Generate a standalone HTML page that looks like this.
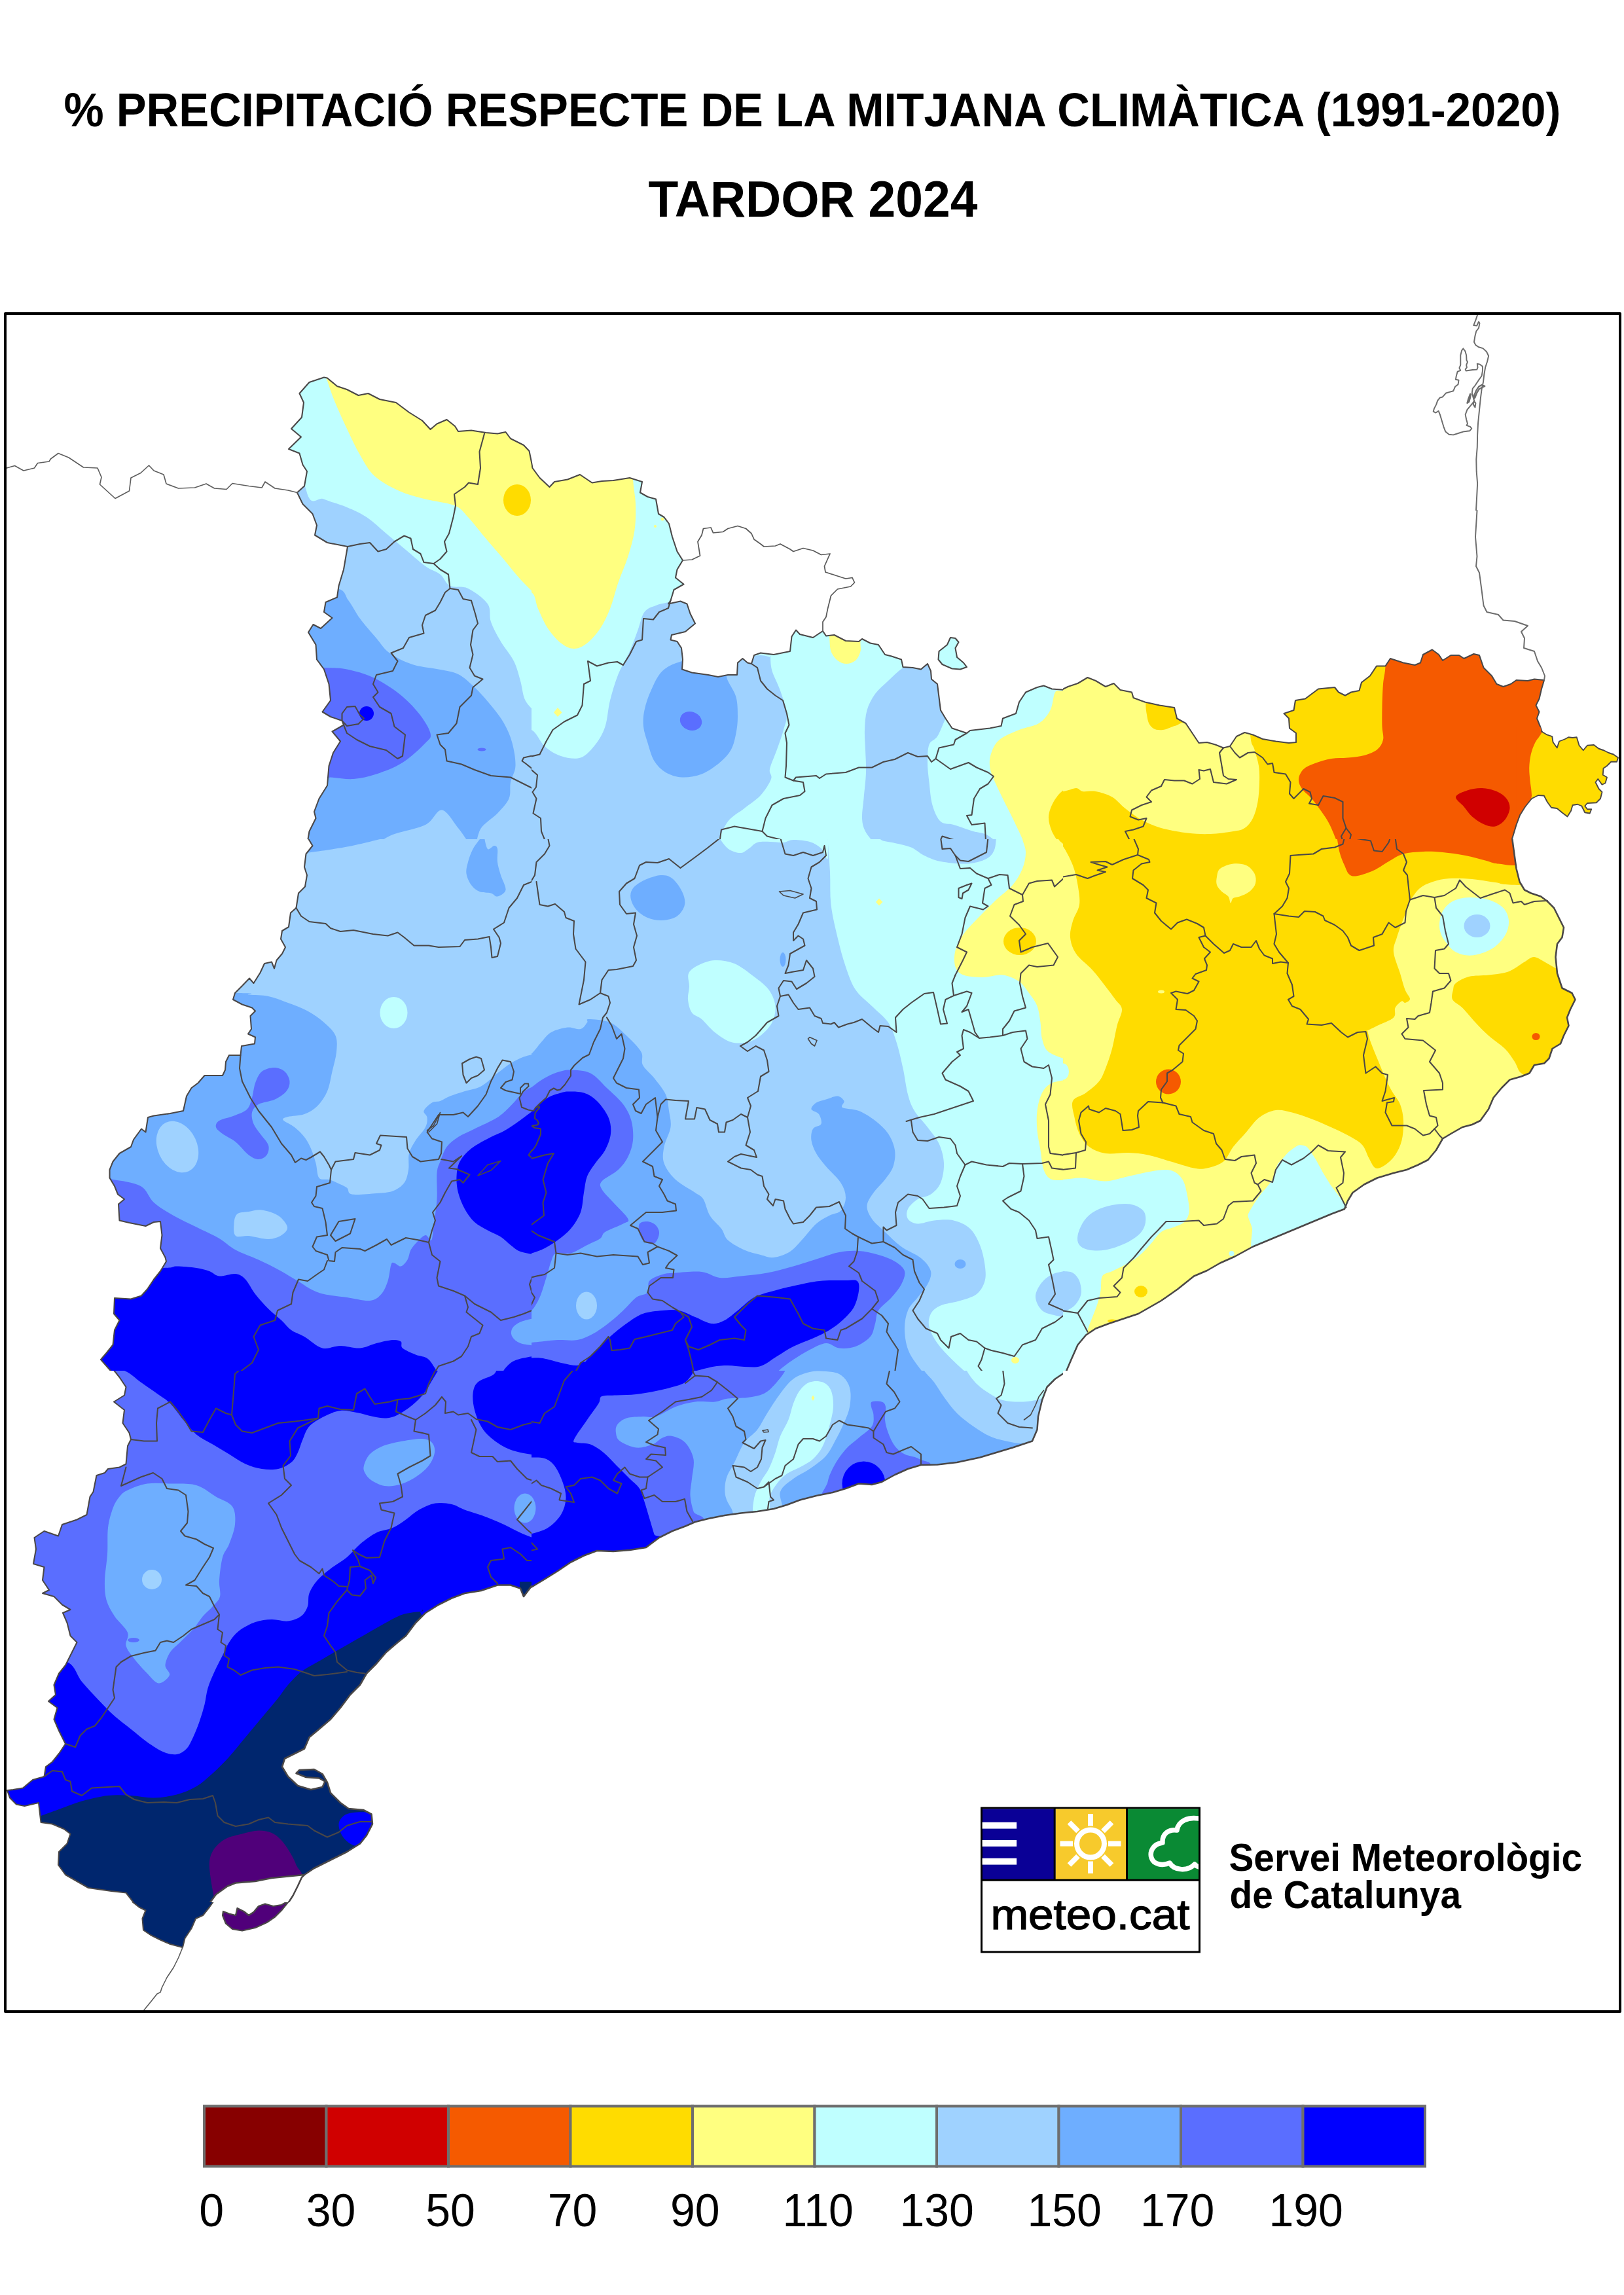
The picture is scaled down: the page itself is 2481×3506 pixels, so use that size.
<!DOCTYPE html>
<html><head><meta charset="utf-8"><title>Precipitació tardor 2024</title>
<style>html,body{margin:0;padding:0;background:#fff}body{width:2481px;height:3506px;overflow:hidden;font-family:"Liberation Sans",sans-serif}svg{display:block}</style>
</head><body>
<svg width="2481" height="3506" viewBox="0 0 2481 3506" font-family="'Liberation Sans',sans-serif">
<rect width="2481" height="3506" fill="#ffffff"/>
<g transform="translate(0,470) scale(0.50000)">
<clipPath id="cl0r"><rect x="0" y="0" width="1624" height="1624"/></clipPath>
<clipPath id="cl0" clip-path="url(#cl0r)"><path d="M1628,492 L1617,438 L1600,420 L1560,400 L1545,380 L1520,385 L1485,382 L1440,375 L1400,378 L1390,362 L1365,342 L1335,355 L1315,372 L1290,345 L1250,320 L1210,290 L1160,280 L1125,262 L1095,268 L1060,250 L1030,240 L1000,215 L990,213 L945,228 L915,262 L928,290 L922,335 L890,370 L920,395 L882,432 L915,445 L925,480 L938,500 L930,545 L908,565 L925,600 L955,630 L968,665 L962,695 L1000,718 L1062,730 L1050,800 L1035,850 L1030,885 L995,900 L990,930 L1015,948 L980,980 L957,968 L942,992 L965,1030 L968,1075 L990,1105 L1005,1150 L1010,1200 L985,1235 L1010,1250 L1045,1262 L1050,1275 L1015,1295 L1040,1325 L1018,1360 L1005,1400 L1000,1460 L975,1500 L960,1540 L965,1560 L945,1600 L940,1630 L1630,1630Z"/></clipPath>
<g clip-path="url(#cl0)">
<rect x="0" y="0" width="1624" height="1624" fill="#9fd2ff"/>
<path d="M900,200 C772.5,259.2 920,490.8 935,555 C950,619.2 969.2,575.8 990,585 C1010.8,594.2 1038.3,600.8 1060,610 C1081.7,619.2 1100,626.7 1120,640 C1140,653.3 1160,673.3 1180,690 C1200,706.7 1220,723.3 1240,740 C1260,756.7 1282.5,777.5 1300,790 C1317.5,802.5 1332.5,805 1345,815 C1357.5,825 1360.8,842.8 1375,850 C1389.2,857.2 1410.8,848.8 1430,858 C1449.2,867.2 1478.3,888 1490,905 C1501.7,922 1493.3,940.8 1500,960 C1506.7,979.2 1518.3,1000 1530,1020 C1541.7,1040 1560,1060 1570,1080 C1580,1100 1584.2,1120 1590,1140 C1595.8,1160 1596.7,1183.3 1605,1200 C1613.3,1216.7 1640,1240 1640,1240 L1700,1240 L1700,200 C1700,200 1027.5,140.8 900,200Z" fill="#bfffff"/>
<path d="M985,190 C868,194.7 992.2,203 998,218 C1003.8,233 1009.7,254.7 1020,280 C1030.3,305.3 1046.7,341.7 1060,370 C1073.3,398.3 1085.8,425.8 1100,450 C1114.2,474.2 1125,496.7 1145,515 C1165,533.3 1194.2,548.3 1220,560 C1245.8,571.7 1271.7,577.5 1300,585 C1328.3,592.5 1368.3,595.8 1390,605 C1411.7,614.2 1415,624.2 1430,640 C1445,655.8 1461.7,678.3 1480,700 C1498.3,721.7 1521.7,748.3 1540,770 C1558.3,791.7 1573.3,811.7 1590,830 C1606.7,848.3 1640,880 1640,880 L1700,880 L1700,190 C1700,190 1102,185.3 985,190Z" fill="#ffff80"/>
<ellipse cx="1580" cy="588" rx="42" ry="48" fill="#ffdc00"/>
<path d="M900,858 C921.7,727.7 1002.5,851.8 1030,858 C1057.5,864.2 1053.3,879.7 1065,895 C1076.7,910.3 1085.8,930.8 1100,950 C1114.2,969.2 1135,992.5 1150,1010 C1165,1027.5 1171.7,1041.7 1190,1055 C1208.3,1068.3 1235,1081.7 1260,1090 C1285,1098.3 1316.7,1100 1340,1105 C1363.3,1110 1381.7,1110.8 1400,1120 C1418.3,1129.2 1433.3,1144.2 1450,1160 C1466.7,1175.8 1485,1196.7 1500,1215 C1515,1233.3 1529.2,1250.8 1540,1270 C1550.8,1289.2 1559.2,1308.3 1565,1330 C1570.8,1351.7 1575.8,1380 1575,1400 C1574.2,1420 1563.3,1433.3 1560,1450 C1556.7,1466.7 1561.7,1484.2 1555,1500 C1548.3,1515.8 1534.2,1530 1520,1545 C1505.8,1560 1480.8,1574.2 1470,1590 C1459.2,1605.8 1455,1640 1455,1640 L1435,1640 C1435,1640 1414.2,1607.5 1400,1590 C1385.8,1572.5 1366.7,1536.7 1350,1535 C1333.3,1533.3 1325,1567.5 1300,1580 C1275,1592.5 1225,1600 1200,1610 C1175,1620 1150,1640 1150,1640 L900,1640 C900,1640 878.3,988.3 900,858Z" fill="#6eaeff"/>
<path d="M950,1100 C957,1044.2 973.7,1099.2 992,1100 C1010.3,1100.8 1035.3,1100 1060,1105 C1084.7,1110 1113.3,1117.5 1140,1130 C1166.7,1142.5 1196.7,1161.7 1220,1180 C1243.3,1198.3 1264.2,1220 1280,1240 C1295.8,1260 1311.7,1285 1315,1300 C1318.3,1315 1314.2,1315 1300,1330 C1285.8,1345 1255,1374.2 1230,1390 C1205,1405.8 1175,1416.7 1150,1425 C1125,1433.3 1103.3,1438.3 1080,1440 C1056.7,1441.7 1031.7,1435.8 1010,1435 C988.3,1434.2 960,1490.8 950,1435 C940,1379.2 943,1155.8 950,1100Z" fill="#5a6eff"/>
<ellipse cx="1120" cy="1240" rx="22" ry="22" fill="#0000ff"/>
<ellipse cx="1472" cy="1350" rx="13" ry="5" fill="#5a6eff"/>
</g>
<g clip-path="url(#cl0r)" fill="none" stroke="#4a4747" stroke-linejoin="round" stroke-linecap="round">
<path d="M1628,492 L1617,438 L1600,420 L1560,400 L1545,380 L1520,385 L1485,382 L1440,375 L1400,378 L1390,362 L1365,342 L1335,355 L1315,372 L1290,345 L1250,320 L1210,290 L1160,280 L1125,262 L1095,268 L1060,250 L1030,240 L1000,215 L990,213 L945,228 L915,262 L928,290 L922,335 L890,370 L920,395 L882,432 L915,445 L925,480 L938,500 L930,545 L908,565 L925,600 L955,630 L968,665 L962,695 L1000,718 L1062,730 L1050,800 L1035,850 L1030,885 L995,900 L990,930 L1015,948 L980,980 L957,968 L942,992 L965,1030 L968,1075 L990,1105 L1005,1150 L1010,1200 L985,1235 L1010,1250 L1045,1262 L1050,1275 L1015,1295 L1040,1325 L1018,1360 L1005,1400 L1000,1460 L975,1500 L960,1540 L965,1560 L945,1600 L940,1630" stroke-width="4.1"/>
<path d="M908,565 L880,558 L840,552 L810,532 L800,550 L760,545 L710,537 L692,555 L655,552 L630,538 L595,550 L545,552 L508,538 L500,510 L470,498 L455,482 L430,505 L400,520 L395,560 L352,583 L305,540 L310,518 L298,490 L255,488 L210,458 L178,445 L155,462 L150,470 L115,475 L105,490 L72,498 L45,483 L20,490" stroke-width="3.3" stroke="#5e5e5e"/>
<path d="M1062,730 L1100,722 L1130,718 L1155,745 L1180,738 L1205,715 L1235,697 L1255,705 L1262,738 L1285,752 L1295,778 L1325,782 L1345,768 L1365,745 L1358,715 L1372,690 L1385,640 L1392,605 L1388,570 L1420,548 L1432,535 L1460,540 L1468,490 L1465,440 L1480,385" stroke-width="4.1"/>
<path d="M1325,782 L1345,800 L1370,815 L1375,858 L1360,870 L1345,900 L1330,925 L1300,940 L1290,970 L1295,995 L1250,1008 L1232,1040 L1195,1055 L1215,1080 L1200,1110 L1150,1122 L1140,1150 L1155,1175 L1140,1190 L1160,1220 L1195,1240 L1205,1280 L1238,1305 L1230,1370 L1215,1378 L1180,1352 L1130,1340 L1090,1320 L1060,1300 L1050,1275" stroke-width="4.1"/>
<path d="M1045,1262 L1045,1240 L1060,1220 L1085,1218 L1100,1245 L1112,1255 L1095,1272 L1060,1278 L1045,1262" stroke-width="4.1"/>
<path d="M1375,858 L1400,862 L1415,890 L1440,895 L1452,935 L1460,965 L1445,985 L1438,1030 L1445,1060 L1435,1100 L1450,1125 L1475,1135 L1445,1160 L1440,1185 L1405,1220 L1395,1270 L1370,1300 L1335,1305 L1345,1335 L1360,1350 L1365,1385 L1410,1395 L1450,1412 L1500,1430 L1560,1435 L1630,1470" stroke-width="4.1"/>
<path d="M1630,1412 L1605,1392 L1595,1385 L1600,1375 L1630,1368" stroke-width="4.1"/>
</g></g>
<g transform="translate(812,470) scale(0.50000)">
<clipPath id="cl1r"><rect x="0" y="0" width="1624" height="1624"/></clipPath>
<clipPath id="cl1" clip-path="url(#cl1r)"><path d="M-5,445 L3,490 L25,520 L55,548 L70,532 L110,525 L148,510 L185,535 L215,530 L250,528 L300,520 L338,532 L332,565 L355,578 L380,585 L388,630 L405,640 L420,660 L430,700 L445,745 L462,772 L445,800 L440,825 L465,845 L435,862 L425,895 L418,905 L455,897 L475,905 L485,935 L500,965 L470,990 L428,1000 L425,1015 L445,1020 L458,1040 L462,1075 L460,1105 L490,1115 L540,1122 L570,1128 L600,1122 L628,1122 L630,1085 L645,1072 L660,1085 L672,1088 L680,1062 L700,1055 L740,1060 L790,1050 L795,1005 L808,985 L820,998 L860,1008 L890,988 L900,1003 L925,1000 L960,1018 L1000,1020 L1010,1012 L1035,1025 L1060,1030 L1080,1060 L1100,1065 L1130,1075 L1135,1098 L1165,1100 L1190,1105 L1210,1088 L1220,1110 L1222,1135 L1240,1150 L1245,1190 L1250,1230 L1265,1255 L1285,1285 L1330,1300 L1340,1292 L1400,1285 L1435,1278 L1440,1255 L1480,1240 L1490,1205 L1510,1175 L1545,1160 L1565,1155 L1590,1165 L1630,1168 L1630,1630 L-5,1630Z M1245,1050 L1270,1030 L1280,1008 L1295,1010 L1305,1022 L1295,1040 L1300,1068 L1320,1085 L1330,1098 L1310,1105 L1285,1103 L1255,1090 L1243,1075Z"/></clipPath>
<g clip-path="url(#cl1)">
<rect x="0" y="0" width="1624" height="1624" fill="#bfffff"/>
<path d="M-60,870 C-60,870 -13.3,861.7 0,870 C13.3,878.3 11.7,901.7 20,920 C28.3,938.3 38.3,962.5 50,980 C61.7,997.5 76.7,1014.7 90,1025 C103.3,1035.3 116.7,1042 130,1042 C143.3,1042 156.7,1035.3 170,1025 C183.3,1014.7 198.3,997.5 210,980 C221.7,962.5 230.8,943.3 240,920 C249.2,896.7 255.8,866.7 265,840 C274.2,813.3 286.7,786.7 295,760 C303.3,733.3 311.2,706.7 315,680 C318.8,653.3 318.8,626.7 318,600 C317.2,573.3 311.3,553.3 310,520 C308.7,486.7 371.7,420 310,400 C248.3,380 -60,400 -60,400 L-60,870Z" fill="#ffff80"/>
<path d="M68,1237 L80,1222 L93,1237 L80,1250Z" fill="#ffff80"/>
<ellipse cx="378" cy="668" rx="4" ry="4" fill="#ffff80"/>
<ellipse cx="400" cy="646" rx="5" ry="5" fill="#ffff80"/>
<path d="M905,950 C888.3,959.2 908.3,988.3 910,1005 C911.7,1021.7 910.8,1037.8 915,1050 C919.2,1062.2 927.2,1071.7 935,1078 C942.8,1084.3 952.8,1088 962,1088 C971.2,1088 982.8,1084.3 990,1078 C997.2,1071.7 1002.5,1059.7 1005,1050 C1007.5,1040.3 1004.2,1036.7 1005,1020 C1005.8,1003.3 1026.7,961.7 1010,950 C993.3,938.3 921.7,940.8 905,950Z" fill="#ffff80"/>
<path d="M-60,1290 C-60,1290 -16.7,1281.7 0,1290 C16.7,1298.3 25,1326.7 40,1340 C55,1353.3 71.7,1364.2 90,1370 C108.3,1375.8 132.5,1380.8 150,1375 C167.5,1369.2 182.5,1350.8 195,1335 C207.5,1319.2 217.5,1302.5 225,1280 C232.5,1257.5 233.3,1226.7 240,1200 C246.7,1173.3 255,1145 265,1120 C275,1095 290,1072.5 300,1050 C310,1027.5 317.5,1005 325,985 C332.5,965 335.8,942.5 345,930 C354.2,917.5 367.5,915 380,910 C392.5,905 403.3,903.3 420,900 C436.7,896.7 450,873.3 480,890 C510,906.7 575.3,970.8 600,1000 C624.7,1029.2 611.3,1054.7 628,1065 C644.7,1075.3 683,1061.5 700,1062 C717,1062.5 725,1067 730,1068 C735,1069 729.2,1061 730,1068 C730.8,1075 730,1093 735,1110 C740,1127 752.5,1148.3 760,1170 C767.5,1191.7 778.3,1220 780,1240 C781.7,1260 775,1271.7 770,1290 C765,1308.3 757,1330 750,1350 C743,1370 731,1395 728,1410 C725,1425 736.7,1426.7 732,1440 C727.3,1453.3 713.7,1475 700,1490 C686.3,1505 666.7,1516.7 650,1530 C633.3,1543.3 614.2,1551.7 600,1570 C585.8,1588.3 565,1640 565,1640 L-60,1640 L-60,1290Z" fill="#9fd2ff"/>
<path d="M460,1080 C436.7,1086.7 415.8,1095 400,1110 C384.2,1125 374.2,1150 365,1170 C355.8,1190 348.8,1211.7 345,1230 C341.2,1248.3 340.3,1263.3 342,1280 C343.7,1296.7 349.5,1312.5 355,1330 C360.5,1347.5 365.8,1370 375,1385 C384.2,1400 395.8,1411.7 410,1420 C424.2,1428.3 441.7,1434.2 460,1435 C478.3,1435.8 500.8,1432.5 520,1425 C539.2,1417.5 560,1402.5 575,1390 C590,1377.5 601.7,1365 610,1350 C618.3,1335 621.7,1316.7 625,1300 C628.3,1283.3 630,1268.3 630,1250 C630,1231.7 630,1208.3 625,1190 C620,1171.7 606.7,1155 600,1140 C593.3,1125 595,1111.7 585,1100 C575,1088.3 560.8,1073.3 540,1070 C519.2,1066.7 483.3,1073.3 460,1080Z" fill="#6eaeff"/>
<ellipse cx="487" cy="1263" rx="34" ry="28" fill="#5a6eff" transform="rotate(20 487 1263)"/>
<path d="M1135,1100 C1116.7,1113.3 1104.2,1126.7 1090,1140 C1075.8,1153.3 1060.8,1165 1050,1180 C1039.2,1195 1030.3,1211.7 1025,1230 C1019.7,1248.3 1018.8,1270 1018,1290 C1017.2,1310 1019.3,1328.3 1020,1350 C1020.7,1371.7 1022.8,1395 1022,1420 C1021.2,1445 1017,1476.7 1015,1500 C1013,1523.3 1009.2,1543.3 1010,1560 C1010.8,1576.7 1013.3,1586.7 1020,1600 C1026.7,1613.3 1050,1640 1050,1640 L1430,1640 C1430,1640 1403.3,1616.7 1390,1610 C1376.7,1603.3 1366.7,1605 1350,1600 C1333.3,1595 1306.7,1585 1290,1580 C1273.3,1575 1260.8,1580 1250,1570 C1239.2,1560 1230.8,1540 1225,1520 C1219.2,1500 1217.5,1471.7 1215,1450 C1212.5,1428.3 1210,1409.2 1210,1390 C1210,1370.8 1210,1348.3 1215,1335 C1220,1321.7 1232.2,1322.2 1240,1310 C1247.8,1297.8 1258.3,1270 1262,1262 C1265.7,1254 1257.3,1272.3 1262,1262 C1266.7,1251.7 1295,1229.5 1290,1200 C1285,1170.5 1247,1108.3 1232,1085 C1217,1061.7 1216.2,1057.5 1200,1060 C1183.8,1062.5 1153.3,1086.7 1135,1100Z" fill="#9fd2ff"/>
<path d="M1700,1150 C1700,1150 1640.7,1165.8 1624,1170 C1607.3,1174.2 1606.5,1165 1600,1175 C1593.5,1185 1593.3,1214.2 1585,1230 C1576.7,1245.8 1565.8,1260 1550,1270 C1534.2,1280 1510,1281.7 1490,1290 C1470,1298.3 1444.2,1308.3 1430,1320 C1415.8,1331.7 1410,1346.7 1405,1360 C1400,1373.3 1398.8,1386.7 1400,1400 C1401.2,1413.3 1405.3,1423.3 1412,1440 C1418.7,1456.7 1430.3,1480 1440,1500 C1449.7,1520 1460,1539.3 1470,1560 C1480,1580.7 1493.3,1607.3 1500,1624 C1506.7,1640.7 1510,1660 1510,1660 L1700,1660 L1700,1150Z" fill="#ffff80"/>
<path d="M1660,1460 C1660,1460 1634.8,1466.7 1624,1475 C1613.2,1483.3 1602.3,1496.7 1595,1510 C1587.7,1523.3 1580.8,1540 1580,1555 C1579.2,1570 1584.2,1585.8 1590,1600 C1595.8,1614.2 1615,1640 1615,1640 L1660,1640 L1660,1460Z" fill="#ffdc00"/>
</g>
<g clip-path="url(#cl1r)" fill="none" stroke="#4a4747" stroke-linejoin="round" stroke-linecap="round">
<path d="M-5,445 L3,490 L25,520 L55,548 L70,532 L110,525 L148,510 L185,535 L215,530 L250,528 L300,520 L338,532 L332,565 L355,578 L380,585 L388,630 L405,640 L420,660 L430,700 L445,745 L462,772 L445,800 L440,825 L465,845 L435,862 L425,895 L418,905 L455,897 L475,905 L485,935 L500,965 L470,990 L428,1000 L425,1015 L445,1020 L458,1040 L462,1075 L460,1105 L490,1115 L540,1122 L570,1128 L600,1122 L628,1122 L630,1085 L645,1072 L660,1085 L672,1088 L680,1062 L700,1055 L740,1060 L790,1050 L795,1005 L808,985 L820,998 L860,1008 L890,988 L900,1003 L925,1000 L960,1018 L1000,1020 L1010,1012 L1035,1025 L1060,1030 L1080,1060 L1100,1065 L1130,1075 L1135,1098 L1165,1100 L1190,1105 L1210,1088 L1220,1110 L1222,1135 L1240,1150 L1245,1190 L1250,1230 L1265,1255 L1285,1285 L1330,1300 L1340,1292 L1400,1285 L1435,1278 L1440,1255 L1480,1240 L1490,1205 L1510,1175 L1545,1160 L1565,1155 L1590,1165 L1630,1168" stroke-width="4.1"/>
<path d="M1245,1050 L1270,1030 L1280,1008 L1295,1010 L1305,1022 L1295,1040 L1300,1068 L1320,1085 L1330,1098 L1310,1105 L1285,1103 L1255,1090 L1243,1075 L1245,1050" stroke-width="4.1"/>
<path d="M462,772 L490,770 L515,758 L508,715 L520,695 L525,675 L548,672 L555,688 L585,685 L600,675 L630,667 L655,675 L672,690 L680,708 L700,722 L710,730 L745,728 L760,722 L790,738 L800,745 L830,735 L860,742 L885,755 L912,752 L895,790 L898,808 L935,820 L960,828 L980,825 L987,840 L975,852 L935,860 L915,880 L905,920 L900,945 L890,960 L890,988" stroke-width="3.5" stroke="#5a5a5a"/>
<path d="M-5,1372 L25,1365 L45,1325 L65,1290 L100,1265 L140,1245 L155,1215 L160,1150 L180,1140 L172,1080 L200,1095 L235,1085 L262,1082 L280,1092 L300,1060 L320,1020 L338,1015 L342,950 L372,953 L390,930 L418,918 L425,895" stroke-width="4.1"/>
<path d="M-5,1408 L18,1428 L14,1465 L3,1480 L15,1500 L5,1545 L28,1560 L30,1600 L42,1630" stroke-width="4.1"/>
<path d="M672,1088 L690,1100 L700,1140 L720,1165 L745,1185 L768,1200 L780,1240 L787,1275 L775,1300 L780,1330 L778,1400 L775,1435 L800,1445 L830,1450 L835,1478 L820,1490 L770,1500 L735,1520 L715,1560 L705,1600 L720,1615 L760,1625" stroke-width="4.1"/>
<path d="M575,1630 L580,1595 L620,1585 L660,1592 L705,1600" stroke-width="4.1"/>
<path d="M800,1445 L808,1435 L870,1430 L880,1438 L900,1425 L960,1420 L1000,1405 L1040,1405 L1075,1388 L1110,1380 L1150,1360 L1180,1372 L1210,1370 L1222,1388 L1235,1378 L1280,1410 L1335,1390 L1360,1405 L1395,1420 L1412,1432 L1395,1455 L1370,1470 L1352,1500 L1345,1550 L1330,1552 L1345,1580 L1385,1575 L1388,1630" stroke-width="4.1"/>
<path d="M1235,1378 L1245,1345 L1290,1335 L1295,1320 L1330,1300" stroke-width="4.1"/>
<path d="M1248,1630 L1255,1615 L1290,1626" stroke-width="4.1"/>
</g></g>
<g transform="translate(1624,470) scale(0.50000)">
<clipPath id="cl2r"><rect x="0" y="0" width="1624" height="1624"/></clipPath>
<clipPath id="cl2" clip-path="url(#cl2r)"><path d="M-5,1168 L15,1158 L45,1148 L75,1130 L100,1140 L130,1158 L155,1148 L175,1168 L210,1175 L215,1192 L250,1205 L295,1215 L340,1222 L348,1255 L375,1270 L395,1300 L415,1330 L440,1328 L465,1335 L490,1345 L510,1340 L530,1310 L555,1298 L580,1305 L610,1318 L650,1325 L690,1330 L712,1328 L712,1300 L692,1285 L690,1255 L675,1240 L705,1230 L710,1200 L740,1195 L760,1180 L780,1165 L830,1160 L842,1175 L862,1185 L880,1175 L905,1170 L912,1145 L938,1125 L958,1095 L985,1095 L1000,1072 L1040,1085 L1075,1092 L1092,1085 L1100,1060 L1128,1045 L1148,1060 L1160,1078 L1185,1062 L1210,1062 L1225,1072 L1255,1058 L1272,1062 L1285,1100 L1310,1125 L1325,1150 L1345,1158 L1368,1150 L1385,1138 L1420,1140 L1440,1135 L1470,1138 L1462,1165 L1455,1195 L1445,1215 L1455,1235 L1448,1255 L1458,1280 L1465,1300 L1400,1540 L1385,1580 L1370,1630 L-5,1630Z"/></clipPath>
<g clip-path="url(#cl2)">
<rect x="0" y="0" width="1624" height="1624" fill="#ffdc00"/>
<path d="M-60,1100 L-60,1478 C-60,1478 -16.7,1479.7 0,1478 C16.7,1476.3 30,1468 40,1468 C50,1468 50,1476.3 60,1478 C70,1479.7 85,1475.2 100,1478 C115,1480.8 135,1486.3 150,1495 C165,1503.7 175,1518.3 190,1530 C205,1541.7 221.7,1555 240,1565 C258.3,1575 276.7,1583.3 300,1590 C323.3,1596.7 355,1602 380,1605 C405,1608 426.7,1608.8 450,1608 C473.3,1607.2 502.5,1603 520,1600 C537.5,1597 545,1596.7 555,1590 C565,1583.3 573.3,1573.3 580,1560 C586.7,1546.7 591.7,1528.3 595,1510 C598.3,1491.7 599.5,1468.3 600,1450 C600.5,1431.7 600.5,1416.7 598,1400 C595.5,1383.3 589.3,1366.7 585,1350 C580.7,1333.3 574.2,1341.7 572,1300 C569.8,1258.3 677.3,1133.3 572,1100 C466.7,1066.7 -60,1100 -60,1100Z" fill="#ffff80"/>
<path d="M260,1190 C246.3,1200.8 255.5,1239.2 258,1255 C260.5,1270.8 267.2,1279.2 275,1285 C282.8,1290.8 295,1290.8 305,1290 C315,1289.2 326.7,1283 335,1280 C343.3,1277 347.5,1277 355,1272 C362.5,1267 382.5,1263.7 380,1250 C377.5,1236.3 360,1200 340,1190 C320,1180 273.7,1179.2 260,1190Z" fill="#ffdc00"/>
<path d="M985,1000 C899.2,1015.8 986.2,1070 985,1095 C983.8,1120 979.7,1129.2 978,1150 C976.3,1170.8 975.5,1198.3 975,1220 C974.5,1241.7 974.5,1263.3 975,1280 C975.5,1296.7 980.5,1308.3 978,1320 C975.5,1331.7 969.7,1342 960,1350 C950.3,1358 935,1363.8 920,1368 C905,1372.2 886.7,1373.3 870,1375 C853.3,1376.7 836.7,1375.2 820,1378 C803.3,1380.8 784.2,1386.7 770,1392 C755.8,1397.3 743.3,1402 735,1410 C726.7,1418 720.8,1430 720,1440 C719.2,1450 723.3,1460 730,1470 C736.7,1480 750,1488.3 760,1500 C770,1511.7 780.8,1526.7 790,1540 C799.2,1553.3 806.7,1563.3 815,1580 C823.3,1596.7 840,1640 840,1640 L1400,1640 C1400,1640 1427.8,1533.3 1432,1500 C1436.2,1466.7 1425.7,1458.3 1425,1440 C1424.3,1421.7 1425.5,1406.7 1428,1390 C1430.5,1373.3 1433.8,1355 1440,1340 C1446.2,1325 1455,1315 1465,1300 C1475,1285 1494.2,1300 1500,1250 C1505.8,1200 1585.8,1041.7 1500,1000 C1414.2,958.3 1070.8,984.2 985,1000Z" fill="#f55a00"/>
<path d="M1200,1495 C1201.7,1486.7 1221.7,1479.5 1235,1475 C1248.3,1470.5 1265,1467.5 1280,1468 C1295,1468.5 1312.5,1472.7 1325,1478 C1337.5,1483.3 1348.3,1491.3 1355,1500 C1361.7,1508.7 1365.8,1519.2 1365,1530 C1364.2,1540.8 1357.5,1555.8 1350,1565 C1342.5,1574.2 1330.8,1582.8 1320,1585 C1309.2,1587.2 1296.7,1583 1285,1578 C1273.3,1573 1260,1563.8 1250,1555 C1240,1546.2 1233.3,1535 1225,1525 C1216.7,1515 1198.3,1503.3 1200,1495Z" fill="#d00000"/>
</g>
<g clip-path="url(#cl2r)" fill="none" stroke="#4a4747" stroke-linejoin="round" stroke-linecap="round">
<path d="M-5,1168 L15,1158 L45,1148 L75,1130 L100,1140 L130,1158 L155,1148 L175,1168 L210,1175 L215,1192 L250,1205 L295,1215 L340,1222 L348,1255 L375,1270 L395,1300 L415,1330 L440,1328 L465,1335 L490,1345 L510,1340 L530,1310 L555,1298 L580,1305 L610,1318 L650,1325 L690,1330 L712,1328 L712,1300 L692,1285 L690,1255 L675,1240 L705,1230 L710,1200 L740,1195 L760,1180 L780,1165 L830,1160 L842,1175 L862,1185 L880,1175 L905,1170 L912,1145 L938,1125 L958,1095 L985,1095 L1000,1072 L1040,1085 L1075,1092 L1092,1085 L1100,1060 L1128,1045 L1148,1060 L1160,1078 L1185,1062 L1210,1062 L1225,1072 L1255,1058 L1272,1062 L1285,1100 L1310,1125 L1325,1150 L1345,1158 L1368,1150 L1385,1138 L1420,1140 L1440,1135 L1470,1138 L1462,1165 L1455,1195 L1445,1215 L1455,1235 L1448,1255 L1458,1280 L1465,1300" stroke-width="4.1"/>
<path d="M1400,1540 L1385,1580 L1370,1630" stroke-width="4.1"/>
<path d="M1265,620 L1260,700 L1265,760 L1262,790 L1272,810 L1280,870 L1285,910 L1295,930 L1330,938 L1345,955 L1380,958 L1420,972 L1400,990 L1410,1010 L1408,1040 L1440,1050 L1450,1080 L1462,1100 L1472,1125 L1470,1138" stroke-width="3.9" stroke="#6c6c6c"/>
<path d="M490,1345 L478,1360 L485,1400 L490,1430 L505,1440 L530,1442 L500,1455 L460,1450 L450,1410 L430,1415 L415,1412 L418,1440 L395,1455 L370,1445 L340,1445 L310,1442 L300,1462 L270,1475 L255,1495 L270,1510 L240,1520 L210,1535 L205,1555 L230,1565 L255,1560 L245,1585 L215,1595 L190,1600 L205,1630" stroke-width="4.1"/>
<path d="M510,1340 L525,1360 L540,1375 L565,1360 L585,1358 L610,1375 L625,1395 L640,1392 L645,1420 L680,1425 L695,1450 L692,1485 L705,1500 L715,1490 L735,1470 L755,1480 L760,1500 L752,1515 L780,1520 L795,1492 L830,1498 L855,1510 L855,1560 L865,1590 L850,1615 L855,1630" stroke-width="4.1"/>
<path d="M865,1590 L880,1610 L875,1630" stroke-width="4.1"/>
</g></g>
<g transform="translate(2075,960) scale(0.25000)">
<clipPath id="cl3r"><rect x="0" y="0" width="1624" height="1624"/></clipPath>
<clipPath id="cl3" clip-path="url(#cl3r)"><path d="M1120,630 L1150,648 L1185,660 L1190,695 L1215,730 L1228,690 L1260,678 L1285,665 L1310,668 L1335,665 L1350,715 L1375,745 L1400,715 L1440,712 L1470,735 L1500,745 L1530,760 L1560,770 L1588,790 L1580,815 L1545,815 L1520,840 L1498,855 L1495,895 L1520,910 L1510,945 L1490,955 L1465,920 L1450,940 L1470,980 L1490,1000 L1480,1040 L1455,1065 L1400,1068 L1385,1085 L1400,1105 L1425,1105 L1415,1130 L1385,1125 L1365,1085 L1340,1075 L1310,1080 L1300,1115 L1278,1150 L1245,1125 L1215,1100 L1180,1095 L1155,1060 L1135,1022 L1100,1020 L1060,1040 L1020,1090 L992,1135 L965,1135 L965,600 L1112,600Z"/></clipPath>
<g clip-path="url(#cl3)">
<rect x="0" y="0" width="1624" height="1624" fill="#f55a00"/>
<path d="M1120,640 C1100,673.3 1090.8,678.3 1080,700 C1069.2,721.7 1060.8,745 1055,770 C1049.2,795 1045.8,823.3 1045,850 C1044.2,876.7 1047.5,901.7 1050,930 C1052.5,958.3 1058.3,975 1060,1020 C1061.7,1065 953.3,1170 1060,1200 C1166.7,1230 1700,1200 1700,1200 L1700,500 C1700,500 1296.7,476.7 1200,500 C1103.3,523.3 1140,606.7 1120,640Z" fill="#ffdc00"/>
<ellipse cx="1553" cy="907" rx="5" ry="5" fill="#4a4747"/>
</g>
<g clip-path="url(#cl3r)" fill="none" stroke="#4a4747" stroke-linejoin="round" stroke-linecap="round">
<path d="M1120,630 L1150,648 L1185,660 L1190,695 L1215,730 L1228,690 L1260,678 L1285,665 L1310,668 L1335,665 L1350,715 L1375,745 L1400,715 L1440,712 L1470,735 L1500,745 L1530,760 L1560,770 L1588,790 L1580,815 L1545,815 L1520,840 L1498,855 L1495,895 L1520,910 L1510,945 L1490,955 L1465,920 L1450,940 L1470,980 L1490,1000 L1480,1040 L1455,1065 L1400,1068 L1385,1085 L1400,1105 L1425,1105 L1415,1130 L1385,1125 L1365,1085 L1340,1075 L1310,1080 L1300,1115 L1278,1150 L1245,1125 L1215,1100 L1180,1095 L1155,1060 L1135,1022 L1100,1020 L1060,1040 L1020,1090 L992,1135" stroke-width="7.4"/>
</g></g>
<g transform="translate(2150,480) scale(0.18473)">
<clipPath id="cl4r"><rect x="0" y="0" width="1624" height="1624"/></clipPath>
<clipPath id="cl4" clip-path="url(#cl4r)"><path d=""/></clipPath>
<g clip-path="url(#cl4)">
<rect x="0" y="0" width="1624" height="1624" fill="#ffffff"/>
</g>
<g clip-path="url(#cl4r)" fill="none" stroke="#4a4747" stroke-linejoin="round" stroke-linecap="round">
<path d="M580,5 L565,50 L548,92 L575,95 L590,62 L598,75 L590,115 L570,140 L560,180 L552,230 L565,255 L590,272 L625,282 L655,310 L672,345 L660,395 L645,440 L635,500 L628,560 L615,620 L605,700 L595,800 L585,900 L580,1000 L578,1100 L570,1200 L572,1300 L580,1400 L575,1500 L568,1630" stroke-width="10.5" stroke="#6c6c6c"/>
<path d="M462,285 L478,305 L488,340 L490,380 L498,395 L488,420 L492,440 L480,455 L485,468 L540,460 L575,458 L582,440 L578,410 L600,415 L622,432 L622,470 L615,510 L590,545 L560,590 L540,615 L535,650 L545,690 L555,720 L540,735 L520,760 L495,790 L480,830 L488,870 L498,905 L490,920 L520,930 L532,945 L515,965 L470,970 L420,985 L380,998 L345,995 L315,970 L300,930 L285,880 L270,830 L258,800 L235,815 L215,805 L222,780 L240,745 L250,715 L270,690 L290,685 L320,652 L345,645 L380,635 L395,600 L420,580 L425,545 L400,540 L405,510 L415,475 L440,465 L430,445 L440,420 L440,340 L450,300 L462,285" stroke-width="10.5" stroke="#6c6c6c"/>
<path d="M640,595 L615,585 L590,600 L570,630 L555,665 L548,700 L560,690 L575,650 L595,618 L620,605 L640,595" stroke-width="12.2" stroke="#6c6c6c"/>
<path d="M520,660 L505,700 L495,735 L510,725 L520,690 L525,662" stroke-width="12.2" stroke="#6c6c6c"/>
<path d="M550,720 L565,735 L560,770 L545,745 L550,720" stroke-width="11.1" stroke="#6c6c6c"/>
</g></g>
<g transform="translate(0,1282) scale(0.50000)">
<clipPath id="cl5r"><rect x="0" y="0" width="1624" height="1624"/></clipPath>
<clipPath id="cl5" clip-path="url(#cl5r)"><path d="M940,-5 L955,20 L935,45 L930,85 L938,110 L932,145 L912,165 L905,210 L888,225 L882,268 L862,280 L858,305 L872,330 L862,350 L845,370 L838,395 L830,375 L808,380 L795,408 L775,440 L762,425 L740,448 L718,470 L712,490 L740,505 L770,515 L780,525 L765,540 L768,580 L758,595 L780,605 L778,625 L738,632 L735,660 L700,660 L690,680 L688,705 L680,722 L625,722 L605,745 L585,760 L570,785 L560,830 L520,838 L470,845 L452,850 L445,895 L432,885 L408,918 L400,940 L365,960 L345,985 L335,1010 L335,1035 L350,1060 L360,1085 L380,1100 L362,1115 L365,1165 L395,1172 L445,1182 L470,1170 L490,1168 L495,1210 L490,1250 L505,1278 L508,1290 L490,1320 L470,1345 L450,1375 L432,1395 L400,1405 L350,1402 L348,1450 L365,1470 L350,1500 L345,1545 L325,1570 L308,1590 L330,1615 L345,1632 L1630,1632 L1630,-5Z"/></clipPath>
<g clip-path="url(#cl5)">
<rect x="0" y="0" width="1624" height="1624" fill="#9fd2ff"/>
<path d="M900,-20 C900,-20 891.7,35 900,45 C908.3,55 925,43.3 950,40 C975,36.7 1021.7,30 1050,25 C1078.3,20 1098.3,15 1120,10 C1141.7,5 1180,-5 1180,-5 L1180,-20 L900,-20Z" fill="#6eaeff"/>
<path d="M1470,-5 C1470,-5 1451.7,17.5 1445,30 C1438.3,42.5 1433.3,57.5 1430,70 C1426.7,82.5 1423.3,93.3 1425,105 C1426.7,116.7 1433.3,130.8 1440,140 C1446.7,149.2 1455,155.8 1465,160 C1475,164.2 1490.8,162.5 1500,165 C1509.2,167.5 1512.5,176.7 1520,175 C1527.5,173.3 1543.3,165.8 1545,155 C1546.7,144.2 1534.2,124.2 1530,110 C1525.8,95.8 1521.7,83.3 1520,70 C1518.3,56.7 1521.7,38.3 1520,30 C1518.3,21.7 1515,20 1510,20 C1505,20 1495,34.2 1490,30 C1485,25.8 1480,-5 1480,-5 L1470,-5Z" fill="#6eaeff"/>
<ellipse cx="1203" cy="530" rx="42" ry="48" fill="#bfffff"/>
<path d="M200,470 C286.3,275 624.7,469.2 718,470 C811.3,470.8 743,473.3 760,475 C777,476.7 800,475.8 820,480 C840,484.2 860,492.5 880,500 C900,507.5 921.7,515 940,525 C958.3,535 975.8,547.5 990,560 C1004.2,572.5 1018.7,585 1025,600 C1031.3,615 1029.7,631.7 1028,650 C1026.3,668.3 1019.7,690 1015,710 C1010.3,730 1007.5,752.5 1000,770 C992.5,787.5 981.7,803.3 970,815 C958.3,826.7 945,834.5 930,840 C915,845.5 890.8,845 880,848 C869.2,851 861.7,852.7 865,858 C868.3,863.3 889.2,871.3 900,880 C910.8,888.7 921.7,899.2 930,910 C938.3,920.8 944.2,931.7 950,945 C955.8,958.3 960.8,975 965,990 C969.2,1005 968.3,1026.7 975,1035 C981.7,1043.3 995.8,1037.5 1005,1040 C1014.2,1042.5 1020.8,1045.8 1030,1050 C1039.2,1054.2 1052.5,1059.2 1060,1065 C1067.5,1070.8 1060,1082.2 1075,1085 C1090,1087.8 1129.2,1083.7 1150,1082 C1170.8,1080.3 1185.8,1080.3 1200,1075 C1214.2,1069.7 1227,1060.8 1235,1050 C1243,1039.2 1245.5,1025 1248,1010 C1250.5,995 1246.3,975 1250,960 C1253.7,945 1261.7,933.3 1270,920 C1278.3,906.7 1294.2,891.7 1300,880 C1305.8,868.3 1305.8,858.3 1305,850 C1304.2,841.7 1292.5,837.5 1295,830 C1297.5,822.5 1311.7,810 1320,805 C1328.3,800 1335.8,803.3 1345,800 C1354.2,796.7 1362.5,790 1375,785 C1387.5,780 1404.2,775 1420,770 C1435.8,765 1453.3,764.2 1470,755 C1486.7,745.8 1505,726.7 1520,715 C1535,703.3 1546.7,693.3 1560,685 C1573.3,676.7 1586.7,670 1600,665 C1613.3,660 1640,655 1640,655 L1640,1640 L200,1640 C200,1640 113.7,665 200,470Z" fill="#6eaeff"/>
<ellipse cx="542" cy="940" rx="60" ry="82" fill="#9fd2ff" transform="rotate(-25 542 940)"/>
<path d="M715,1175 C715.8,1163.8 717.5,1151.2 725,1145 C732.5,1138.8 747.5,1140 760,1138 C772.5,1136 785,1131 800,1133 C815,1135 837,1141.3 850,1150 C863,1158.7 876.3,1175 878,1185 C879.7,1195 869.7,1203.8 860,1210 C850.3,1216.2 836.7,1221.7 820,1222 C803.3,1222.3 776.7,1213.7 760,1212 C743.3,1210.3 727.5,1218.2 720,1212 C712.5,1205.8 714.2,1186.2 715,1175Z" fill="#9fd2ff"/>
<path d="M838,698 C826.3,698 809.7,702.2 800,710 C790.3,717.8 785,731.7 780,745 C775,758.3 774.2,776.7 770,790 C765.8,803.3 764.2,815.8 755,825 C745.8,834.2 729.2,839.2 715,845 C700.8,850.8 679.2,854.2 670,860 C660.8,865.8 658.3,873.3 660,880 C661.7,886.7 670,892.5 680,900 C690,907.5 706.7,914.2 720,925 C733.3,935.8 748.3,956.2 760,965 C771.7,973.8 780.8,978 790,978 C799.2,978 810,972.2 815,965 C820,957.8 823.3,945.8 820,935 C816.7,924.2 802.5,910.8 795,900 C787.5,889.2 779.2,880.8 775,870 C770.8,859.2 767.5,845 770,835 C772.5,825 778.3,816.7 790,810 C801.7,803.3 825.8,801.7 840,795 C854.2,788.3 867.5,779.2 875,770 C882.5,760.8 885.8,750 885,740 C884.2,730 877.8,717 870,710 C862.2,703 849.7,698 838,698Z" fill="#5a6eff"/>
<path d="M300,1040 C307.5,940 323.3,1036.7 345,1040 C366.7,1043.3 409.2,1048.3 430,1060 C450.8,1071.7 453.3,1095 470,1110 C486.7,1125 508.3,1137.5 530,1150 C551.7,1162.5 576.7,1173.3 600,1185 C623.3,1196.7 650,1208.3 670,1220 C690,1231.7 700,1244.2 720,1255 C740,1265.8 768.3,1275 790,1285 C811.7,1295 830,1304.2 850,1315 C870,1325.8 893.3,1340 910,1350 C926.7,1360 936.7,1368.3 950,1375 C963.3,1381.7 971.7,1385.8 990,1390 C1008.3,1394.2 1036.7,1396.7 1060,1400 C1083.3,1403.3 1112.5,1411.7 1130,1410 C1147.5,1408.3 1155.8,1400 1165,1390 C1174.2,1380 1180,1365 1185,1350 C1190,1335 1191.7,1309.2 1195,1300 C1198.3,1290.8 1200,1294.2 1205,1295 C1210,1295.8 1218.3,1306.7 1225,1305 C1231.7,1303.3 1240,1293.3 1245,1285 C1250,1276.7 1250,1264.2 1255,1255 C1260,1245.8 1267.5,1237.5 1275,1230 C1282.5,1222.5 1292.8,1210.8 1300,1210 C1307.2,1209.2 1313.8,1230 1318,1225 C1322.2,1220 1322.2,1200.8 1325,1180 C1327.8,1159.2 1333.3,1126.7 1335,1100 C1336.7,1073.3 1333.3,1039.2 1335,1020 C1336.7,1000.8 1340,998.3 1345,985 C1350,971.7 1355.8,952.5 1365,940 C1374.2,927.5 1385.8,919.2 1400,910 C1414.2,900.8 1430,895 1450,885 C1470,875 1501.3,862 1520,850 C1538.7,838 1549,825.7 1562,813 C1575,800.3 1587.7,783.2 1598,774 C1608.3,764.8 1615.3,762.8 1624,758 C1632.7,753.2 1650,745 1650,745 L1650,1640 L300,1640 C300,1640 292.5,1140 300,1040Z" fill="#5a6eff"/>
<path d="M1640,1462 C1640,1462 1602.5,1469.5 1590,1475 C1577.5,1480.5 1569.2,1487.5 1565,1495 C1560.8,1502.5 1560.8,1512.5 1565,1520 C1569.2,1527.5 1577.5,1535.3 1590,1540 C1602.5,1544.7 1640,1548 1640,1548 L1640,1462Z" fill="#6eaeff"/>
<path d="M300,1310 C333.3,1254.2 460,1310.8 500,1310 C540,1309.2 523.3,1305 540,1305 C556.7,1305 583.3,1307.5 600,1310 C616.7,1312.5 628.3,1315.8 640,1320 C651.7,1324.2 656.7,1333.7 670,1335 C683.3,1336.3 706.7,1326.3 720,1328 C733.3,1329.7 740,1334.7 750,1345 C760,1355.3 768.3,1375 780,1390 C791.7,1405 806.7,1421.7 820,1435 C833.3,1448.3 848.3,1459.2 860,1470 C871.7,1480.8 878.3,1491.7 890,1500 C901.7,1508.3 914.2,1510.8 930,1520 C945.8,1529.2 966.7,1550.3 985,1555 C1003.3,1559.7 1020.8,1548 1040,1548 C1059.2,1548 1081.7,1556.3 1100,1555 C1118.3,1553.7 1133.3,1544.2 1150,1540 C1166.7,1535.8 1187.5,1530.8 1200,1530 C1212.5,1529.2 1220,1530.8 1225,1535 C1230,1539.2 1222.5,1548.3 1230,1555 C1237.5,1561.7 1256.7,1569.2 1270,1575 C1283.3,1580.8 1297.5,1578.3 1310,1590 C1322.5,1601.7 1345,1645 1345,1645 L300,1645 C300,1645 266.7,1365.8 300,1310Z" fill="#0000ff"/>
<path d="M1660,810 C1660,810 1637.7,823.5 1624,833 C1610.3,842.5 1592.2,857.2 1578,867 C1563.8,876.8 1552,884.8 1539,892 C1526,899.2 1516.5,901.2 1500,910 C1483.5,918.8 1455.8,932.5 1440,945 C1424.2,957.5 1412.5,970.8 1405,985 C1397.5,999.2 1395.8,1014.2 1395,1030 C1394.2,1045.8 1395.8,1063.3 1400,1080 C1404.2,1096.7 1411.7,1115 1420,1130 C1428.3,1145 1438.3,1159.2 1450,1170 C1461.7,1180.8 1476.7,1187.5 1490,1195 C1503.3,1202.5 1518.3,1207.5 1530,1215 C1541.7,1222.5 1550,1232.5 1560,1240 C1570,1247.5 1576.7,1255 1590,1260 C1603.3,1265 1640,1270 1640,1270 L1660,810Z" fill="#0000ff"/>
<path d="M1530,1640 C1530,1640 1537.5,1623 1545,1615 C1552.5,1607 1559.2,1598.2 1575,1592 C1590.8,1585.8 1640,1578 1640,1578 L1640,1640 L1530,1640Z" fill="#0000ff"/>
</g>
<g clip-path="url(#cl5r)" fill="none" stroke="#4a4747" stroke-linejoin="round" stroke-linecap="round">
<path d="M940,-5 L955,20 L935,45 L930,85 L938,110 L932,145 L912,165 L905,210 L888,225 L882,268 L862,280 L858,305 L872,330 L862,350 L845,370 L838,395 L830,375 L808,380 L795,408 L775,440 L762,425 L740,448 L718,470 L712,490 L740,505 L770,515 L780,525 L765,540 L768,580 L758,595 L780,605 L778,625 L738,632 L735,660 L700,660 L690,680 L688,705 L680,722 L625,722 L605,745 L585,760 L570,785 L560,830 L520,838 L470,845 L452,850 L445,895 L432,885 L408,918 L400,940 L365,960 L345,985 L335,1010 L335,1035 L350,1060 L360,1085 L380,1100 L362,1115 L365,1165 L395,1172 L445,1182 L470,1170 L490,1168 L495,1210 L490,1250 L505,1278 L508,1290 L490,1320 L470,1345 L450,1375 L432,1395 L400,1405 L350,1402 L348,1450 L365,1470 L350,1500 L345,1545 L325,1570 L308,1590 L330,1615 L345,1632" stroke-width="4.1"/>
<path d="M905,210 L920,235 L945,252 L995,258 L1010,272 L1040,282 L1080,278 L1140,290 L1185,295 L1215,285 L1235,300 L1265,325 L1310,325 L1340,330 L1405,328 L1420,308 L1460,305 L1495,298 L1500,330 L1503,362 L1520,358 L1530,318 L1525,300 L1508,275 L1540,255 L1555,210 L1580,180 L1600,140 L1630,128" stroke-width="4.1"/>
<path d="M735,660 L732,700 L740,740 L765,790 L790,830 L830,880 L860,930 L890,965 L902,988 L920,975 L935,980 L950,972 L978,955 L990,970 L1005,995 L1012,1010" stroke-width="4.1"/>
<path d="M1012,1010 L1025,985 L1080,978 L1085,958 L1130,965 L1160,950 L1165,935 L1150,930 L1162,905 L1210,908 L1242,910 L1245,945 L1260,970 L1285,985 L1340,978 L1348,960 L1350,925 L1320,915 L1305,895 L1325,865 L1340,842 L1385,842 L1415,835 L1430,848 L1460,815 L1485,780 L1500,740 L1520,700 L1535,675 L1560,680 L1570,710 L1565,735 L1545,742 L1530,760 L1545,768 L1590,778 L1590,760 L1603,747 L1614,747 L1615,755 L1598,771 L1587,790 L1594,819 L1614,827 L1630,830" stroke-width="4.1"/>
<path d="M1412,685 L1435,672 L1455,665 L1470,670 L1480,705 L1460,722 L1440,730 L1425,745 L1415,720 L1412,685" stroke-width="4.1"/>
<path d="M1305,890 L1325,875 L1345,835 L1335,870 L1310,895" stroke-width="3.3"/>
<path d="M1012,1010 L1008,1050 L968,1062 L965,1090 L952,1110 L960,1122 L985,1128 L995,1170 L1000,1210 L968,1215 L955,1245 L965,1258 L1000,1270 L1005,1288 L1022,1290 L1025,1262 L1045,1248 L1100,1252 L1115,1258 L1150,1240 L1182,1222 L1195,1240 L1240,1218 L1280,1225 L1310,1232 L1320,1195 L1330,1165 L1322,1140 L1345,1110 L1360,1080 L1380,1045 L1405,1040 L1415,1050 L1435,1025 L1395,1008 L1372,1005 L1410,968 L1385,985 L1348,978" stroke-width="4.1"/>
<path d="M1010,1210 L1035,1168 L1085,1160 L1070,1205 L1025,1228 L1010,1210" stroke-width="4.1"/>
<path d="M1000,1288 L990,1315 L968,1330 L940,1350 L912,1345 L895,1385 L890,1420 L848,1440 L840,1470 L795,1485 L775,1520 L790,1560 L770,1600 L730,1630" stroke-width="4.1"/>
<path d="M1310,1232 L1320,1270 L1345,1290 L1335,1340 L1340,1365 L1385,1380 L1420,1395 L1430,1430 L1425,1445 L1475,1485 L1465,1510 L1440,1520 L1430,1550 L1410,1580 L1385,1595 L1340,1610 L1328,1630" stroke-width="4.1"/>
<path d="M1420,1395 L1450,1420 L1500,1445 L1530,1470 L1570,1460 L1600,1450 L1630,1438" stroke-width="4.1"/>
<path d="M1630,943 L1615,965 L1630,978" stroke-width="4.1"/>
<path d="M1630,1328 L1618,1360 L1630,1402" stroke-width="4.1"/>
<path d="M1460,1028 L1490,995 L1530,983 L1500,1012 L1460,1028" stroke-width="3.3"/>
</g></g>
<g transform="translate(812,1282) scale(0.50000)">
<clipPath id="cl6r"><rect x="0" y="0" width="1624" height="1624"/></clipPath>
<clipPath id="cl6" clip-path="url(#cl6r)"><path d="M-5,-5 L1630,-5 L1630,1630 L-5,1630Z"/></clipPath>
<g clip-path="url(#cl6)">
<rect x="0" y="0" width="1624" height="1624" fill="#9fd2ff"/>
<path d="M570,-20 C570,-20 574.2,-3.7 580,5 C585.8,13.7 595,25.8 605,32 C615,38.2 630,42.7 640,42 C650,41.3 656.7,33.3 665,28 C673.3,22.7 679.2,13.3 690,10 C700.8,6.7 716.7,8 730,8 C743.3,8 758.3,11 770,10 C781.7,9 786.7,2.3 800,2 C813.3,1.7 835.8,3.7 850,8 C864.2,12.3 875.8,19.3 885,28 C894.2,36.7 901.7,68 905,60 C908.3,52 905,-20 905,-20 L570,-20Z" fill="#bfffff"/>
<path d="M905,-20 C905,-20 903.8,-20 905,0 C906.2,20 910.3,66.7 912,100 C913.7,133.3 911.2,166.7 915,200 C918.8,233.3 927.5,268.3 935,300 C942.5,331.7 950.8,363.3 960,390 C969.2,416.7 976.7,440 990,460 C1003.3,480 1023.3,493.3 1040,510 C1056.7,526.7 1077.5,541.7 1090,560 C1102.5,578.3 1107.5,596.7 1115,620 C1122.5,643.3 1129.2,673.3 1135,700 C1140.8,726.7 1144.2,758.3 1150,780 C1155.8,801.7 1160,813.3 1170,830 C1180,846.7 1197.5,863.3 1210,880 C1222.5,896.7 1236.7,911.7 1245,930 C1253.3,948.3 1259.2,970 1260,990 C1260.8,1010 1256.7,1034.2 1250,1050 C1243.3,1065.8 1231.7,1076.7 1220,1085 C1208.3,1093.3 1191.7,1092.5 1180,1100 C1168.3,1107.5 1155,1120 1150,1130 C1145,1140 1145,1152.5 1150,1160 C1155,1167.5 1166.7,1174.2 1180,1175 C1193.3,1175.8 1211.7,1166.7 1230,1165 C1248.3,1163.3 1271.7,1160.8 1290,1165 C1308.3,1169.2 1326.7,1177.5 1340,1190 C1353.3,1202.5 1362.5,1221.7 1370,1240 C1377.5,1258.3 1382.5,1281.7 1385,1300 C1387.5,1318.3 1389.2,1335 1385,1350 C1380.8,1365 1372.5,1380 1360,1390 C1347.5,1400 1328.3,1404.2 1310,1410 C1291.7,1415.8 1265,1418.3 1250,1425 C1235,1431.7 1225.8,1439.2 1220,1450 C1214.2,1460.8 1211.7,1475 1215,1490 C1218.3,1505 1228.3,1523.3 1240,1540 C1251.7,1556.7 1268.3,1573.3 1285,1590 C1301.7,1606.7 1340,1640 1340,1640 L1640,1640 L1640,-20 L905,-20Z" fill="#bfffff"/>
<path d="M1060,-20 C1060,-20 1059.7,-3.3 1068,2 C1076.3,7.3 1094.7,8.2 1110,12 C1125.3,15.8 1145,18.7 1160,25 C1175,31.3 1185,42.8 1200,50 C1215,57.2 1228.3,63.8 1250,68 C1271.7,72.2 1306.7,76.3 1330,75 C1353.3,73.7 1375.8,67.5 1390,60 C1404.2,52.5 1410,43.3 1415,30 C1420,16.7 1420,-20 1420,-20 L1060,-20Z" fill="#9fd2ff"/>
<path d="M1640,1318 C1640,1318 1604.2,1323 1590,1330 C1575.8,1337 1563.3,1348.3 1555,1360 C1546.7,1371.7 1539.2,1386.7 1540,1400 C1540.8,1413.3 1550,1430.8 1560,1440 C1570,1449.2 1586.7,1451.3 1600,1455 C1613.3,1458.7 1640,1462 1640,1462 L1640,1318Z" fill="#9fd2ff"/>
<ellipse cx="1310" cy="1298" rx="17" ry="14" fill="#6eaeff"/>
<path d="M480,410 C484.7,399.2 496.7,391.7 510,385 C523.3,378.3 541.7,370.8 560,370 C578.3,369.2 600,371.7 620,380 C640,388.3 662.5,406.7 680,420 C697.5,433.3 714.2,445 725,460 C735.8,475 743.3,493.3 745,510 C746.7,526.7 742.5,545 735,560 C727.5,575 712.5,590 700,600 C687.5,610 675,616.7 660,620 C645,623.3 626.7,625 610,620 C593.3,615 575,601.7 560,590 C545,578.3 531.7,560 520,550 C508.3,540 497,540 490,530 C483,520 479.3,503.3 478,490 C476.7,476.7 481.7,463.3 482,450 C482.3,436.7 475.3,420.8 480,410Z" fill="#bfffff"/>
<path d="M1500,-20 C1500,-20 1498.3,-10 1500,0 C1501.7,10 1510,25 1510,40 C1510,55 1506.7,73.3 1500,90 C1493.3,106.7 1483.3,124.2 1470,140 C1456.7,155.8 1436.7,169.2 1420,185 C1403.3,200.8 1386.7,217.5 1370,235 C1353.3,252.5 1332.5,272.5 1320,290 C1307.5,307.5 1299.2,323.3 1295,340 C1290.8,356.7 1290.8,377.5 1295,390 C1299.2,402.5 1305.8,409.7 1320,415 C1334.2,420.3 1360,422 1380,422 C1400,422 1421.7,412.8 1440,415 C1458.3,417.2 1476.7,425.8 1490,435 C1503.3,444.2 1510.8,457.5 1520,470 C1529.2,482.5 1539.2,495 1545,510 C1550.8,525 1552.5,543.3 1555,560 C1557.5,576.7 1555.8,595 1560,610 C1564.2,625 1566.7,639.2 1580,650 C1593.3,660.8 1640,675 1640,675 L1640,-20 L1500,-20Z" fill="#ffff80"/>
<ellipse cx="1492" cy="312" rx="50" ry="42" fill="#ffdc00"/>
<path d="M1603,-10 C1603,-10 1609.5,0 1613,4 C1616.5,8 1619.5,10.5 1624,14 C1628.5,17.5 1640,25 1640,25 L1640,-10 L1603,-10Z" fill="#ffdc00"/>
<path d="M1640,735 C1640,735 1603.3,738.3 1590,745 C1576.7,751.7 1567.5,760.8 1560,775 C1552.5,789.2 1547.5,810.8 1545,830 C1542.5,849.2 1543.3,870 1545,890 C1546.7,910 1551.7,930 1555,950 C1558.3,970 1559.2,995 1565,1010 C1570.8,1025 1577.5,1035 1590,1040 C1602.5,1045 1640,1040 1640,1040 L1640,735Z" fill="#ffff80"/>
<path d="M1052,192 L1062,181 L1073,192 L1062,203Z" fill="#ffff80"/>
<ellipse cx="1478" cy="1592" rx="12" ry="10" fill="#ffff80"/>
<path d="M310,150 C317,140.8 330.8,131.7 345,125 C359.2,118.3 380.8,110.8 395,110 C409.2,109.2 419.2,111.7 430,120 C440.8,128.3 453.7,146.7 460,160 C466.3,173.3 470.5,187.5 468,200 C465.5,212.5 456.3,227 445,235 C433.7,243 415,247.2 400,248 C385,248.8 368.3,245.5 355,240 C341.7,234.5 328.7,225 320,215 C311.3,205 304.7,190.8 303,180 C301.3,169.2 303,159.2 310,150Z" fill="#6eaeff"/>
<path d="M-20,655 C-20,655 -8.3,660.8 0,655 C8.3,649.2 20,630.8 30,620 C40,609.2 46.7,597.5 60,590 C73.3,582.5 95,576.7 110,575 C125,573.3 140,582.5 150,580 C160,577.5 165.8,565 170,560 C174.2,555 163.3,550 175,550 C186.7,550 220.8,551.7 240,560 C259.2,568.3 274.2,585 290,600 C305.8,615 326.7,635 335,650 C343.3,665 333.3,676.7 340,690 C346.7,703.3 363.3,715 375,730 C386.7,745 402.5,763.3 410,780 C417.5,796.7 417.5,813.3 420,830 C422.5,846.7 427.5,861.7 425,880 C422.5,898.3 408.3,921.7 405,940 C401.7,958.3 399.2,973.3 405,990 C410.8,1006.7 424.2,1025 440,1040 C455.8,1055 485.8,1070 500,1080 C514.2,1090 517.5,1088.3 525,1100 C532.5,1111.7 535.8,1135 545,1150 C554.2,1165 570.8,1177.5 580,1190 C589.2,1202.5 588.3,1214.2 600,1225 C611.7,1235.8 633.3,1247.5 650,1255 C666.7,1262.5 685,1266.2 700,1270 C715,1273.8 725,1279.7 740,1278 C755,1276.3 775,1269.7 790,1260 C805,1250.3 816.7,1234.2 830,1220 C843.3,1205.8 856.7,1186.7 870,1175 C883.3,1163.3 897.5,1156.7 910,1150 C922.5,1143.3 936.7,1144.2 945,1135 C953.3,1125.8 960,1109.2 960,1095 C960,1080.8 955,1065.8 945,1050 C935,1034.2 912.5,1015 900,1000 C887.5,985 877.5,973.3 870,960 C862.5,946.7 856.7,932.5 855,920 C853.3,907.5 855,893.3 860,885 C865,876.7 882,877.5 885,870 C888,862.5 883,847.5 878,840 C873,832.5 856.3,830.8 855,825 C853.7,819.2 862.5,810 870,805 C877.5,800 889.2,798.3 900,795 C910.8,791.7 925.8,784.2 935,785 C944.2,785.8 952.5,794.2 955,800 C957.5,805.8 942.5,815 950,820 C957.5,825 983.3,823.3 1000,830 C1016.7,836.7 1035,848.3 1050,860 C1065,871.7 1080,885 1090,900 C1100,915 1107.5,933.3 1110,950 C1112.5,966.7 1110,985 1105,1000 C1100,1015 1090,1026.7 1080,1040 C1070,1053.3 1054.2,1066.7 1045,1080 C1035.8,1093.3 1025.8,1106.7 1025,1120 C1024.2,1133.3 1030.8,1146.7 1040,1160 C1049.2,1173.3 1065,1185.8 1080,1200 C1095,1214.2 1111.7,1231.7 1130,1245 C1148.3,1258.3 1175,1267.5 1190,1280 C1205,1292.5 1216.7,1306.7 1220,1320 C1223.3,1333.3 1216.7,1346.7 1210,1360 C1203.3,1373.3 1190,1386.7 1180,1400 C1170,1413.3 1156.7,1423.3 1150,1440 C1143.3,1456.7 1139.2,1478.3 1140,1500 C1140.8,1521.7 1144.2,1546.7 1155,1570 C1165.8,1593.3 1205,1640 1205,1640 L-20,1640 L-20,655Z" fill="#6eaeff"/>
<ellipse cx="768" cy="368" rx="9" ry="22" fill="#6eaeff"/>
<ellipse cx="168" cy="1425" rx="32" ry="42" fill="#9fd2ff"/>
<path d="M-20,770 C-20,770 -7.3,763 0,758 C7.3,753 15.2,745.8 24,740 C32.8,734.2 43.2,727.8 53,723 C62.8,718.2 71.8,714 83,711 C94.2,708 103.8,704.3 120,705 C136.2,705.7 161.7,705.8 180,715 C198.3,724.2 213.3,744.2 230,760 C246.7,775.8 267.5,793.3 280,810 C292.5,826.7 300,841.7 305,860 C310,878.3 311.7,901.7 310,920 C308.3,938.3 302.5,955 295,970 C287.5,985 278.3,997.5 265,1010 C251.7,1022.5 223.3,1035 215,1045 C206.7,1055 209.2,1059.2 215,1070 C220.8,1080.8 236.7,1095 250,1110 C263.3,1125 290,1149.2 295,1160 C300,1170.8 291.7,1168.3 280,1175 C268.3,1181.7 236.7,1192.5 225,1200 C213.3,1207.5 219.2,1213.3 210,1220 C200.8,1226.7 185,1232.5 170,1240 C155,1247.5 135.8,1260.8 120,1265 C104.2,1269.2 85,1260.8 75,1265 C65,1269.2 65,1277.5 60,1290 C55,1302.5 50.8,1321.7 45,1340 C39.2,1358.3 32.5,1383.3 25,1400 C17.5,1416.7 7.5,1433.3 0,1440 C-7.5,1446.7 -20,1440 -20,1440 L-20,770Z" fill="#5a6eff"/>
<path d="M-20,845 C-20,845 -7.3,838 0,832 C7.3,826 15.2,816.3 24,809 C32.8,801.7 43.2,793.3 53,788 C62.8,782.7 73.2,779.8 83,777 C92.8,774.2 99.2,771.3 112,771 C124.8,770.7 145.3,770.2 160,775 C174.7,779.8 187.5,787.5 200,800 C212.5,812.5 228,833.3 235,850 C242,866.7 243.7,883.3 242,900 C240.3,916.7 232.8,935 225,950 C217.2,965 204.2,976.7 195,990 C185.8,1003.3 175.8,1015 170,1030 C164.2,1045 163.3,1061.7 160,1080 C156.7,1098.3 156.7,1121.7 150,1140 C143.3,1158.3 131.7,1175.8 120,1190 C108.3,1204.2 93.3,1215 80,1225 C66.7,1235 53.3,1243.3 40,1250 C26.7,1256.7 10,1262.5 0,1265 C-10,1267.5 -20,1265 -20,1265 L-20,845Z" fill="#0000ff"/>
<path d="M330,1175 C334.2,1168.8 346.7,1167.2 355,1168 C363.3,1168.8 374.2,1173.8 380,1180 C385.8,1186.2 390.8,1195.8 390,1205 C389.2,1214.2 382.5,1230.8 375,1235 C367.5,1239.2 352.5,1235 345,1230 C337.5,1225 332.5,1214.2 330,1205 C327.5,1195.8 325.8,1181.2 330,1175Z" fill="#5a6eff"/>
<path d="M-20,1540 C-20,1540 13.3,1536.7 30,1535 C46.7,1533.3 61.7,1530.8 80,1530 C98.3,1529.2 121.7,1533.3 140,1530 C158.3,1526.7 173.3,1519.2 190,1510 C206.7,1500.8 225,1486.7 240,1475 C255,1463.3 266.7,1452.5 280,1440 C293.3,1427.5 307.5,1409.2 320,1400 C332.5,1390.8 348.3,1393.3 355,1385 C361.7,1376.7 352.5,1359.2 360,1350 C367.5,1340.8 386.7,1334.2 400,1330 C413.3,1325.8 420,1326.3 440,1325 C460,1323.7 497.5,1319.5 520,1322 C542.5,1324.5 555,1337.8 575,1340 C595,1342.2 615.8,1337.5 640,1335 C664.2,1332.5 693.3,1330 720,1325 C746.7,1320 773.3,1312.5 800,1305 C826.7,1297.5 856.7,1287.2 880,1280 C903.3,1272.8 920,1265.7 940,1262 C960,1258.3 980,1256.7 1000,1258 C1020,1259.3 1041.7,1264.7 1060,1270 C1078.3,1275.3 1096.7,1281.7 1110,1290 C1123.3,1298.3 1136.7,1308.3 1140,1320 C1143.3,1331.7 1136.7,1346.7 1130,1360 C1123.3,1373.3 1111.7,1386.7 1100,1400 C1088.3,1413.3 1068.3,1426.7 1060,1440 C1051.7,1453.3 1054.2,1466.7 1050,1480 C1045.8,1493.3 1045,1508.3 1035,1520 C1025,1531.7 1005.8,1544.2 990,1550 C974.2,1555.8 955,1556.7 940,1555 C925,1553.3 915,1539.2 900,1540 C885,1540.8 866.7,1551.7 850,1560 C833.3,1568.3 815,1580 800,1590 C785,1600 770,1611.7 760,1620 C750,1628.3 740,1640 740,1640 L-20,1640 L-20,1540Z" fill="#5a6eff"/>
<path d="M240,1520 C255,1506.7 273.3,1491.7 290,1480 C306.7,1468.3 321.7,1456.7 340,1450 C358.3,1443.3 381.7,1441.7 400,1440 C418.3,1438.3 433.3,1436.7 450,1440 C466.7,1443.3 483.3,1453.3 500,1460 C516.7,1466.7 535,1478.3 550,1480 C565,1481.7 576.7,1476.7 590,1470 C603.3,1463.3 615,1451.7 630,1440 C645,1428.3 661.7,1410 680,1400 C698.3,1390 720,1385.8 740,1380 C760,1374.2 776.7,1370 800,1365 C823.3,1360 853.3,1352.8 880,1350 C906.7,1347.2 940.8,1348 960,1348 C979.2,1348 988.3,1344.7 995,1350 C1001.7,1355.3 1001.7,1366.7 1000,1380 C998.3,1393.3 993.3,1415 985,1430 C976.7,1445 962.5,1458.3 950,1470 C937.5,1481.7 925,1490.8 910,1500 C895,1509.2 878.3,1516.7 860,1525 C841.7,1533.3 818.3,1540.8 800,1550 C781.7,1559.2 766.7,1570 750,1580 C733.3,1590 716.7,1604.7 700,1610 C683.3,1615.3 666.7,1612.3 650,1612 C633.3,1611.7 616.2,1608 600,1608 C583.8,1608 570.7,1608.8 553,1612 C535.3,1615.2 494,1627 494,1627 L470,1645 L130,1645 C130,1645 158.3,1604.2 170,1590 C181.7,1575.8 188.3,1571.7 200,1560 C211.7,1548.3 225,1533.3 240,1520Z" fill="#0000ff"/>
<path d="M-20,1585 C-20,1585 -9.2,1584.8 0,1585 C9.2,1585.2 19.2,1583.3 35,1586 C50.8,1588.7 77.7,1597.3 95,1601 C112.3,1604.7 127.3,1608.5 139,1608 C150.7,1607.5 154.8,1591.8 165,1598 C175.2,1604.2 200,1645 200,1645 L-20,1645 L-20,1585Z" fill="#0000ff"/>
</g>
<g clip-path="url(#cl6r)" fill="none" stroke="#4a4747" stroke-linejoin="round" stroke-linecap="round">
<path d="M50,-5 L55,20 L40,45 L15,70 L10,110 L-5,135" stroke-width="4.1"/>
<path d="M15,130 L25,200 L50,205 L72,198 L100,222 L105,240 L130,250 L128,290 L135,335 L165,375 L160,430 L145,505 L180,490 L210,470 L235,480 L240,500 L230,530 L218,545 L210,580 L190,620 L176,658 L156,668 L131,691 L120,705 L120,723 L102,750 L88,765 L79,767 L68,761 L56,768 L45,790 L26,807 L12,821" stroke-width="4.1"/>
<path d="M210,470 L215,430 L235,400 L260,398 L310,388 L320,370 L312,330 L322,295 L312,260 L318,225 L290,228 L270,200 L268,160 L290,135 L315,120 L330,80 L350,70 L385,72 L420,60 L455,88 L500,55 L540,25 L578,-5" stroke-width="4.1"/>
<path d="M760,-5 L775,45 L800,50 L830,40 L860,50 L890,40 L895,20 L900,50 L880,70 L855,85 L845,120 L855,150 L850,180 L870,190 L872,215 L830,225 L815,260 L800,285 L800,310 L815,295 L830,305 L835,325 L790,350 L785,385 L775,410 L800,405 L830,400 L840,370 L860,395 L865,420 L840,440 L810,458 L795,435 L770,432 L755,455 L760,480 L750,510 L755,540 L720,560 L685,600 L660,620 L638,632" stroke-width="4.1"/>
<path d="M757,160 L790,157 L830,168 L805,180 L770,172 L757,160" stroke-width="3.3"/>
<path d="M760,480 L785,475 L800,500 L815,520 L850,515 L865,540 L885,548 L890,562 L915,565 L925,560 L938,575 L965,565 L985,560 L1010,550 L1040,575 L1060,590 L1065,570 L1090,572 L1115,590 L1112,545 L1135,520 L1160,500 L1200,472 L1228,468 L1240,520 L1250,565 L1270,563 L1258,520 L1265,490 L1290,478 L1285,440 L1295,415" stroke-width="4.1"/>
<path d="M638,632 L660,648 L685,632 L710,645 L720,675 L725,710 L700,725 L692,770 L660,790 L670,815 L660,850 L668,895 L655,935 L680,950 L688,972 L640,962 L620,970 L600,985 L640,1005 L670,1010 L690,1025 L705,1030 L710,1060 L725,1085 L720,1100 L738,1120 L745,1100 L770,1105 L775,1130 L790,1160 L800,1175 L830,1170 L850,1150 L870,1125 L910,1122 L940,1108 L950,1130 L960,1150 L958,1190 L980,1205 L998,1215 L995,1260 L985,1290 L970,1305 L1000,1325 L1010,1350 L1050,1380 L1060,1410 L1040,1435 L1010,1465 L985,1480 L960,1495 L945,1500 L935,1530 L900,1525 L895,1500 L860,1495 L830,1480 L815,1450 L790,1405 L750,1400 L690,1395 L660,1420 L620,1460 L640,1485 L655,1500 L650,1530 L620,1525 L575,1530 L545,1545 L510,1560 L480,1550 L470,1530 L490,1490 L480,1460 L455,1445 L430,1430 L400,1410 L370,1405 L355,1385" stroke-width="4.1"/>
<path d="M660,850 L640,840 L615,858 L595,865 L590,895 L572,895 L568,870 L545,858 L530,825 L505,820 L498,855 L470,855 L480,800 L440,798 L410,795 L395,810 L385,850 L378,790 L350,810 L335,838 L318,830 L310,810 L330,790 L328,765 L290,760 L260,745 L250,730 L265,700 L280,670 L285,640 L275,595 L260,610 L245,570 L230,545" stroke-width="4.1"/>
<path d="M385,850 L380,890 L400,925 L370,955 L340,985 L370,1000 L375,1030 L400,1040 L390,1060 L405,1085 L415,1105 L440,1115 L442,1135 L400,1140 L350,1140 L320,1165 L302,1180 L325,1190 L345,1230 L370,1235 L385,1245 L420,1258 L445,1272 L420,1295 L410,1310 L435,1315 L432,1340 L395,1340 L360,1365 L355,1385" stroke-width="4.1"/>
<path d="M385,1245 L355,1262 L360,1295 L340,1300 L325,1275 L250,1270 L200,1275 L150,1265 L110,1270 L75,1265 L70,1230 L20,1210 L-5,1193" stroke-width="4.1"/>
<path d="M-5,829 L7,830 L12,821 L24,817 L24,821 L16,830 L11,837 L10,853 L18,859 L22,868 L18,873 L0,876 L10,882 L28,885 L28,902 L21,918 L14,935 L6,947 L-5,958" stroke-width="4.1"/>
<path d="M-5,977 L40,965 L68,960 L50,990 L35,1040 L45,1080 L35,1110 L38,1150 L10,1170 L-5,1182" stroke-width="4.1"/>
<path d="M75,1265 L70,1310 L40,1330 L15,1335 L-5,1340" stroke-width="4.1"/>
<path d="M-5,1432 L10,1400 L-5,1378" stroke-width="4.1"/>
<path d="M470,1530 L480,1560 L490,1600 L496,1630" stroke-width="4.1"/>
<path d="M455,1445 L465,1460 L440,1480 L430,1500 L390,1510 L350,1520 L315,1528 L300,1555 L270,1560 L245,1562 L240,1530 L235,1520 L210,1550 L180,1580 L150,1600 L133,1630" stroke-width="4.1"/>
<path d="M1250,-5 L1255,30 L1280,28 L1295,50 L1310,65 L1335,68 L1390,40 L1395,-5" stroke-width="4.1"/>
<path d="M1295,50 L1310,90 L1340,88 L1360,105 L1395,120 L1405,140 L1385,150 L1378,195 L1395,205 L1380,215 L1340,205 L1325,240 L1315,290 L1300,330 L1330,345 L1318,370 L1295,415" stroke-width="4.1"/>
<path d="M1395,120 L1430,108 L1455,110 L1460,150 L1500,170 L1502,190 L1475,200 L1462,235 L1490,262 L1510,290 L1490,310 L1495,345 L1530,330 L1578,318 L1608,360 L1595,385 L1545,390 L1520,385 L1495,410 L1492,440 L1500,480 L1510,515 L1475,525 L1460,555 L1440,580 L1440,600 L1400,605 L1368,608 L1355,590 L1345,555 L1335,520 L1315,528 L1330,510 L1345,470 L1330,465 L1290,478" stroke-width="4.1"/>
<path d="M1500,170 L1520,135 L1545,128 L1590,125 L1598,145 L1630,116" stroke-width="4.1"/>
<path d="M1305,150 L1330,140 L1345,135 L1335,155 L1318,165 L1315,182 L1305,178 L1305,150" stroke-width="4.1"/>
<path d="M1368,608 L1340,590 L1320,582 L1315,600 L1320,640 L1300,650 L1310,660 L1285,680 L1255,715 L1265,735 L1310,755 L1335,770 L1350,800 L1290,820 L1230,840 L1185,850 L1145,862" stroke-width="4.1"/>
<path d="M1160,860 L1165,895 L1180,920 L1210,922 L1245,910 L1280,915 L1295,935 L1300,960 L1325,995 L1310,1030 L1300,1060 L1310,1090 L1300,1120 L1260,1125 L1215,1128 L1195,1100 L1180,1090 L1150,1085 L1120,1110 L1112,1140 L1115,1180 L1085,1195 L1075,1185 L1075,1230 L1110,1248 L1135,1270 L1165,1285 L1170,1320 L1185,1355 L1200,1375 L1185,1410 L1165,1440 L1180,1465 L1205,1495 L1240,1510 L1250,1530 L1275,1555 L1282,1520 L1310,1510 L1335,1530 L1360,1535 L1385,1555 L1375,1590 L1365,1610 L1380,1630" stroke-width="4.1"/>
<path d="M1075,1230 L1040,1235 L998,1215" stroke-width="4.1"/>
<path d="M1325,995 L1345,985 L1390,995 L1440,1000 L1460,990 L1500,992 L1560,990 L1580,985 L1590,1005 L1630,1010" stroke-width="4.1"/>
<path d="M1500,992 L1505,1030 L1495,1075 L1455,1095 L1440,1105 L1465,1130 L1490,1140 L1520,1165 L1540,1195 L1545,1220 L1580,1215 L1590,1260 L1595,1285 L1580,1300 L1590,1340 L1600,1390 L1580,1420 L1630,1442" stroke-width="4.1"/>
<path d="M1630,1452 L1600,1475 L1560,1495 L1540,1530 L1500,1545 L1475,1580 L1440,1570 L1405,1562 L1385,1555" stroke-width="4.1"/>
<path d="M1440,600 L1470,590 L1510,585 L1515,610 L1495,640 L1505,680 L1530,695 L1565,700 L1580,690 L1590,730 L1585,780 L1570,810 L1580,860 L1580,940 L1585,960 L1630,966" stroke-width="4.1"/>
<path d="M845,610 L855,625 L865,632 L872,615 L850,605 L845,610" stroke-width="3.3"/>
<path d="M1040,1435 L1070,1455 L1090,1480 L1085,1505 L1100,1530 L1120,1560 L1115,1595 L1110,1630" stroke-width="4.1"/>
</g></g>
<g transform="translate(1624,1282) scale(0.50000)">
<clipPath id="cl7r"><rect x="0" y="0" width="1624" height="1624"/></clipPath>
<clipPath id="cl7" clip-path="url(#cl7r)"><path d="M1372,-5 L1378,40 L1385,90 L1395,130 L1410,155 L1430,165 L1460,175 L1480,190 L1500,210 L1515,240 L1530,270 L1525,300 L1510,320 L1505,360 L1510,410 L1525,455 L1555,470 L1565,490 L1550,520 L1540,545 L1545,570 L1530,600 L1520,625 L1495,640 L1485,670 L1470,685 L1440,690 L1425,715 L1400,725 L1365,735 L1340,760 L1315,790 L1300,825 L1275,860 L1250,872 L1220,880 L1185,900 L1160,915 L1140,950 L1115,980 L1085,995 L1050,1010 L1010,1020 L960,1035 L920,1055 L885,1080 L870,1105 L860,1130 L820,1145 L760,1170 L700,1195 L640,1220 L580,1245 L525,1275 L480,1295 L440,1318 L400,1335 L350,1375 L300,1410 L230,1450 L140,1480 L100,1495 L70,1515 L45,1545 L25,1590 L8,1630 L-5,1630 L-5,-5Z"/></clipPath>
<g clip-path="url(#cl7)">
<rect x="0" y="0" width="1624" height="1624" fill="#ffdc00"/>
<path d="M835,-20 C835,-20 840.8,23.3 845,40 C849.2,56.7 855,68.7 860,80 C865,91.3 868.3,102.7 875,108 C881.7,113.3 887.5,114.2 900,112 C912.5,109.8 933.3,102.8 950,95 C966.7,87.2 985,73.3 1000,65 C1015,56.7 1023.3,49.5 1040,45 C1056.7,40.5 1080,38.8 1100,38 C1120,37.2 1138.3,38 1160,40 C1181.7,42 1208.3,45.8 1230,50 C1251.7,54.2 1273.3,60.8 1290,65 C1306.7,69.2 1311.7,73.8 1330,75 C1348.3,76.2 1388.3,87.8 1400,72 C1411.7,56.2 1400,-20 1400,-20 L835,-20Z" fill="#f55a00"/>
<path d="M-20,10 C-20,10 -8.3,10.3 0,22 C8.3,33.7 22.5,60.3 30,80 C37.5,99.7 41.7,120 45,140 C48.3,160 52.5,181.7 50,200 C47.5,218.3 34.7,233.3 30,250 C25.3,266.7 20.3,283.3 22,300 C23.7,316.7 28.7,333.3 40,350 C51.3,366.7 75,383.3 90,400 C105,416.7 118.3,435 130,450 C141.7,465 151.7,478.3 160,490 C168.3,501.7 179.2,506.7 180,520 C180.8,533.3 170,550 165,570 C160,590 155.8,618.3 150,640 C144.2,661.7 136.7,683.3 130,700 C123.3,716.7 120,727.5 110,740 C100,752.5 83.3,765 70,775 C56.7,785 35.8,787.5 30,800 C24.2,812.5 31.7,833.3 35,850 C38.3,866.7 42.5,885 50,900 C57.5,915 66.7,930 80,940 C93.3,950 110,957 130,960 C150,963 178.3,957.2 200,958 C221.7,958.8 238.3,960.5 260,965 C281.7,969.5 306.7,978.3 330,985 C353.3,991.7 381.7,1001.7 400,1005 C418.3,1008.3 425,1008.3 440,1005 C455,1001.7 476.7,995.8 490,985 C503.3,974.2 508.3,955 520,940 C531.7,925 546.7,910 560,895 C573.3,880 585,861.2 600,850 C615,838.8 633.3,830.5 650,828 C666.7,825.5 681.7,830.5 700,835 C718.3,839.5 738.3,846.7 760,855 C781.7,863.3 810,875.8 830,885 C850,894.2 865.8,901.7 880,910 C894.2,918.3 905.8,924.2 915,935 C924.2,945.8 928.3,963.3 935,975 C941.7,986.7 946.7,1001.7 955,1005 C963.3,1008.3 975,1001.7 985,995 C995,988.3 1006.7,977.5 1015,965 C1023.3,952.5 1030.8,937.5 1035,920 C1039.2,902.5 1040.8,878.3 1040,860 C1039.2,841.7 1035.8,825 1030,810 C1024.2,795 1012.5,783.3 1005,770 C997.5,756.7 992.5,746.7 985,730 C977.5,713.3 967.5,688.3 960,670 C952.5,651.7 945,634.2 940,620 C935,605.8 931.7,590.8 930,585 C928.3,579.2 925,587.5 930,585 C935,582.5 946.7,576.7 960,570 C973.3,563.3 1000.8,554.2 1010,545 C1019.2,535.8 1010.8,523.3 1015,515 C1019.2,506.7 1030,497.5 1035,495 C1040,492.5 1040.8,501.2 1045,500 C1049.2,498.8 1060,494.7 1060,488 C1060,481.3 1050,473 1045,460 C1040,447 1035.8,429.2 1030,410 C1024.2,390.8 1011.7,363.3 1010,345 C1008.3,326.7 1014.2,319.2 1020,300 C1025.8,280.8 1038.3,248.3 1045,230 C1051.7,211.7 1052.5,203.3 1060,190 C1067.5,176.7 1078.3,160 1090,150 C1101.7,140 1115,135 1130,130 C1145,125 1160,121.3 1180,120 C1200,118.7 1226.7,120 1250,122 C1273.3,124 1296.7,129 1320,132 C1343.3,135 1326.7,138.7 1390,140 C1453.3,141.3 1700,140 1700,140 L1700,1700 L-20,1700 L-20,10Z" fill="#ffff80"/>
<path d="M470,115 C471.7,106.7 471.7,96.7 480,90 C488.3,83.3 506.7,76.7 520,75 C533.3,73.3 549.2,75 560,80 C570.8,85 580.3,95.8 585,105 C589.7,114.2 590.5,125.8 588,135 C585.5,144.2 578,153.3 570,160 C562,166.7 548.3,171.7 540,175 C531.7,178.3 524.7,176.7 520,180 C515.3,183.3 514.5,195.8 512,195 C509.5,194.2 509.5,180.8 505,175 C500.5,169.2 490.8,165.8 485,160 C479.2,154.2 472.5,147.5 470,140 C467.5,132.5 468.3,123.3 470,115Z" fill="#ffff80"/>
<ellipse cx="300" cy="466" rx="10" ry="5" fill="#ffff80"/>
<path d="M1200,440 C1208,433.3 1223.3,424.2 1240,420 C1256.7,415.8 1280,417.5 1300,415 C1320,412.5 1341.7,411.7 1360,405 C1378.3,398.3 1396.7,382.5 1410,375 C1423.3,367.5 1428.3,359.2 1440,360 C1451.7,360.8 1466.7,373.3 1480,380 C1493.3,386.7 1500,393.3 1520,400 C1540,406.7 1586.7,370 1600,420 C1613.3,470 1626.7,650 1600,700 C1573.3,750 1473.3,717.5 1440,720 C1406.7,722.5 1410,721.7 1400,715 C1390,708.3 1388.3,692.5 1380,680 C1371.7,667.5 1363.3,653.3 1350,640 C1336.7,626.7 1315,613.3 1300,600 C1285,586.7 1273.3,574.2 1260,560 C1246.7,545.8 1231.7,526.7 1220,515 C1208.3,503.3 1194.7,499.2 1190,490 C1185.3,480.8 1190.3,468.3 1192,460 C1193.7,451.7 1192,446.7 1200,440Z" fill="#ffdc00"/>
<ellipse cx="1445" cy="603" rx="12" ry="11" fill="#f55a00"/>
<ellipse cx="238" cy="1382" rx="20" ry="18" fill="#ffdc00"/>
<ellipse cx="150" cy="1472" rx="14" ry="5" fill="#ffdc00"/>
<path d="M1150,260 C1150.8,248.3 1153.3,231.7 1160,220 C1166.7,208.3 1176.7,197 1190,190 C1203.3,183 1221.7,178.8 1240,178 C1258.3,177.2 1282.5,179.7 1300,185 C1317.5,190.3 1334.7,199.2 1345,210 C1355.3,220.8 1361.2,235.8 1362,250 C1362.8,264.2 1358.7,280.8 1350,295 C1341.3,309.2 1326.7,325 1310,335 C1293.3,345 1268.3,353.3 1250,355 C1231.7,356.7 1213.3,351.7 1200,345 C1186.7,338.3 1177.5,324.2 1170,315 C1162.5,305.8 1158.3,299.2 1155,290 C1151.7,280.8 1149.2,271.7 1150,260Z" fill="#bfffff"/>
<ellipse cx="1265" cy="265" rx="40" ry="35" fill="#9fd2ff"/>
<path d="M-20,1040 C-20,1040 -13.3,1040.8 0,1040 C13.3,1039.2 38.3,1034.2 60,1035 C81.7,1035.8 106.7,1045.8 130,1045 C153.3,1044.2 176.7,1035 200,1030 C223.3,1025 248.3,1018 270,1015 C291.7,1012 314.2,1007.8 330,1012 C345.8,1016.2 356.7,1027 365,1040 C373.3,1053 376.7,1073.3 380,1090 C383.3,1106.7 386.7,1126.7 385,1140 C383.3,1153.3 377.5,1162.5 370,1170 C362.5,1177.5 351.7,1180 340,1185 C328.3,1190 312.5,1190.8 300,1200 C287.5,1209.2 276.7,1227.5 265,1240 C253.3,1252.5 242.5,1265 230,1275 C217.5,1285 203.3,1292.5 190,1300 C176.7,1307.5 161.7,1314.2 150,1320 C138.3,1325.8 125.8,1325 120,1335 C114.2,1345 117.5,1365.8 115,1380 C112.5,1394.2 109.2,1406.7 105,1420 C100.8,1433.3 95,1446.7 90,1460 C85,1473.3 80,1483.3 75,1500 C70,1516.7 75.8,1533.3 60,1560 C44.2,1586.7 -20,1660 -20,1660 L-20,1040Z" fill="#bfffff"/>
<path d="M45,1210 C47.5,1197.5 55.8,1177.5 65,1165 C74.2,1152.5 85.8,1142.8 100,1135 C114.2,1127.2 132.5,1121.3 150,1118 C167.5,1114.7 189.2,1112.2 205,1115 C220.8,1117.8 237.2,1125.8 245,1135 C252.8,1144.2 253.7,1158.3 252,1170 C250.3,1181.7 245.3,1194.2 235,1205 C224.7,1215.8 207.5,1226.7 190,1235 C172.5,1243.3 148.3,1251.7 130,1255 C111.7,1258.3 93.3,1257.5 80,1255 C66.7,1252.5 55.8,1247.5 50,1240 C44.2,1232.5 42.5,1222.5 45,1210Z" fill="#9fd2ff"/>
<path d="M-20,1320 C-20,1320 -8.3,1319.2 0,1320 C8.3,1320.8 21.7,1320 30,1325 C38.3,1330 45.8,1339.2 50,1350 C54.2,1360.8 57.5,1377.5 55,1390 C52.5,1402.5 44.2,1415.8 35,1425 C25.8,1434.2 9.2,1441.7 0,1445 C-9.2,1448.3 -20,1445 -20,1445 L-20,1320Z" fill="#9fd2ff"/>
<ellipse cx="0" cy="710" rx="18" ry="25" fill="#bfffff"/>
<path d="M690,955 C694.8,951 714.5,936.5 720,935 C725.5,933.5 740,936 745,940 C750,944 765,967 770,975 C775,983 790,1011.5 795,1020 C800,1028.5 814.5,1052 820,1060 C825.5,1068 845,1092 850,1100 C855,1108 885,1128 870,1140 C855,1152 729,1208 700,1220 C671,1232 592.2,1263 580,1260 C567.8,1257 579.5,1201 578,1190 C576.5,1179 564.8,1157 565,1150 C565.2,1143 576.5,1126 580,1120 C583.5,1114 595.5,1096 600,1090 C604.5,1084 621,1065 625,1060 C629,1055 637,1046.5 640,1040 C643,1033.5 651.8,1001.5 655,995 C658.2,988.5 668.5,979 672,975 C675.5,971 685.2,959 690,955Z" fill="#bfffff"/>
<ellipse cx="515" cy="1266" rx="8" ry="8" fill="#bfffff"/>
<ellipse cx="322" cy="741" rx="38" ry="38" fill="#f55a00"/>
<ellipse cx="1550" cy="315" rx="6" ry="9" fill="#4a4747"/>
</g>
<g clip-path="url(#cl7r)" fill="none" stroke="#4a4747" stroke-linejoin="round" stroke-linecap="round">
<path d="M1372,-5 L1378,40 L1385,90 L1395,130 L1410,155 L1430,165 L1460,175 L1480,190 L1500,210 L1515,240 L1530,270 L1525,300 L1510,320 L1505,360 L1510,410 L1525,455 L1555,470 L1565,490 L1550,520 L1540,545 L1545,570 L1530,600 L1520,625 L1495,640 L1485,670 L1470,685 L1440,690 L1425,715 L1400,725 L1365,735 L1340,760 L1315,790 L1300,825 L1275,860 L1250,872 L1220,880 L1185,900 L1160,915 L1140,950 L1115,980 L1085,995 L1050,1010 L1010,1020 L960,1035 L920,1055 L885,1080 L870,1105 L860,1130 L820,1145 L760,1170 L700,1195 L640,1220 L580,1245 L525,1275 L480,1295 L440,1318 L400,1335 L350,1375 L300,1410 L230,1450 L140,1480 L100,1495 L70,1515 L45,1545 L25,1590 L8,1630" stroke-width="5.1"/>
<path d="M215,-5 L230,30 L228,48 L262,62 L265,70 L240,75 L215,95 L212,120 L245,140 L260,155 L255,180 L285,195 L280,225 L300,250 L330,275 L350,255 L378,245 L410,258 L430,270 L435,295 L460,320 L492,348 L510,340 L520,320 L545,330 L575,330 L590,310 L600,335 L615,355 L640,365 L640,380 L665,375 L688,378" stroke-width="4.1"/>
<path d="M-5,116 L40,108 L75,120 L95,112 L130,100 L105,95 L135,85 L110,78 L85,70 L130,68 L150,78 L185,62 L228,48" stroke-width="4.1"/>
<path d="M435,295 L415,300 L430,330 L450,345 L432,365 L440,385 L438,400 L405,412 L395,425 L415,435 L400,462 L380,472 L345,465 L330,470 L350,490 L345,520 L375,522 L400,540 L410,555 L405,580 L375,610 L355,630 L352,645 L368,655 L365,680 L335,705 L318,715 L318,740 L300,765 L298,790 L305,805" stroke-width="4.1"/>
<path d="M305,805 L260,802 L230,830 L228,845 L232,880 L210,888 L183,890 L175,840 L160,830 L130,822 L110,835 L80,825 L78,815 L55,835 L48,860 L55,900 L70,925 L68,950 L40,958 L-5,965" stroke-width="4.1"/>
<path d="M40,958 L38,1005 L-5,1010" stroke-width="4.1"/>
<path d="M305,805 L345,815 L355,840 L390,848 L395,865 L430,890 L460,900 L468,930 L485,950 L495,978 L525,982 L545,970 L585,965 L590,990 L575,1020 L585,1050 L595,1055 L605,1075 L580,1105 L520,1108 L505,1120 L490,1160 L470,1175 L430,1180 L415,1165 L360,1168 L315,1168 L290,1195 L270,1215 L240,1250 L215,1280 L185,1310 L180,1340 L155,1365 L175,1385 L165,1398 L110,1402 L75,1410 L45,1448 L-5,1440" stroke-width="4.1"/>
<path d="M45,1448 L75,1505" stroke-width="4.1"/>
<path d="M595,1055 L615,1040 L640,1048 L650,1010 L670,980 L698,995 L735,975 L760,955 L780,935 L810,952 L862,955 L848,972 L858,1020 L855,1050 L835,1065 L850,1095 L865,1125" stroke-width="4.1"/>
<path d="M688,378 L685,410 L700,445 L705,480 L688,490 L700,510 L725,520 L750,550 L745,565 L790,568 L820,562 L850,590 L870,605 L900,590 L925,588 L930,610 L918,660 L925,715 L955,695 L975,715 L992,720 L985,770 L975,800 L1012,790 L1010,802 L990,805 L985,835 L1005,875 L1050,875 L1075,885 L1100,905 L1120,900 L1135,885 L1150,905 L1160,915" stroke-width="4.1"/>
<path d="M688,378 L660,345 L645,320 L652,290 L648,255 L645,228 L690,235 L720,238 L738,220 L770,222 L795,235 L800,248 L830,262 L855,280 L870,300 L880,325 L905,340 L950,325 L948,300 L975,290 L995,255 L1015,270 L1045,255 L1048,220 L1060,185 L1055,140 L1052,110 L1040,95 L1050,70 L1040,45 L1020,30 L1015,-5" stroke-width="4.1"/>
<path d="M645,228 L670,205 L685,180 L690,150 L680,130 L692,105 L695,50 L720,48 L765,45 L790,30 L830,25 L855,15 L860,-5" stroke-width="4.1"/>
<path d="M880,-5 L940,5 L950,35 L975,38 L995,10 L1000,-5" stroke-width="4.1"/>
<path d="M1060,185 L1100,172 L1135,178 L1165,172 L1200,150 L1212,125 L1230,145 L1275,180 L1310,168 L1350,155 L1365,165 L1375,195 L1400,190 L1410,200 L1440,190 L1480,188" stroke-width="4.1"/>
<path d="M1135,178 L1140,210 L1160,235 L1168,280 L1178,320 L1165,335 L1138,340 L1135,395 L1150,410 L1178,410 L1185,432 L1165,455 L1130,465 L1125,500 L1120,530 L1085,540 L1075,550 L1050,548 L1055,575 L1035,595 L1045,610 L1100,615 L1138,645 L1120,680 L1150,715 L1160,745 L1160,765 L1102,768 L1110,810 L1120,845 L1140,850 L1145,875 L1135,885" stroke-width="4.1"/>
</g></g>
<g transform="translate(0,2094) scale(0.50000)">
<clipPath id="cl8r"><rect x="0" y="0" width="1624" height="1624"/></clipPath>
<clipPath id="cl8" clip-path="url(#cl8r)"><path d="M345,-5 L365,20 L385,50 L380,75 L348,95 L380,120 L375,160 L395,190 L400,210 L390,230 L385,285 L365,295 L330,300 L320,312 L295,320 L285,370 L275,385 L265,440 L235,455 L190,470 L178,505 L135,490 L105,510 L110,545 L102,590 L135,600 L130,640 L150,670 L130,680 L165,690 L190,715 L215,730 L192,740 L205,770 L215,810 L235,830 L215,870 L200,900 L180,925 L165,960 L170,990 L148,1010 L175,1030 L165,1065 L180,1100 L200,1140 L180,1170 L160,1195 L140,1210 L135,1240 L100,1250 L70,1275 L40,1280 L22,1282 L30,1305 L50,1325 L75,1330 L118,1320 L125,1380 L160,1385 L195,1400 L215,1415 L205,1445 L180,1470 L178,1510 L200,1540 L235,1560 L270,1580 L340,1590 L385,1595 L412,1630 L638,1630 L660,1600 L695,1575 L720,1565 L780,1560 L830,1550 L880,1545 L930,1540 L960,1520 L1010,1495 L1060,1470 L1100,1445 L1120,1420 L1138,1385 L1135,1355 L1110,1342 L1065,1338 L1040,1320 L1010,1290 L1000,1258 L985,1232 L960,1218 L915,1220 L905,1230 L935,1242 L975,1245 L993,1255 L985,1272 L950,1280 L910,1268 L880,1240 L862,1210 L870,1185 L900,1170 L930,1155 L945,1120 L975,1095 L1010,1065 L1040,1030 L1070,990 L1100,960 L1120,925 L1150,895 L1180,860 L1215,830 L1240,810 L1270,770 L1300,740 L1340,715 L1380,695 L1420,680 L1470,672 L1520,655 L1560,655 L1590,665 L1600,690 L1630,650 L1630,-5Z"/></clipPath>
<g clip-path="url(#cl8)">
<rect x="0" y="0" width="1624" height="1624" fill="#5a6eff"/>
<path d="M390,365 C404.2,358.3 428.3,348.3 450,345 C471.7,341.7 495,344.2 520,345 C545,345.8 576.7,343.3 600,350 C623.3,356.7 641.7,374.2 660,385 C678.3,395.8 700.3,400.8 710,415 C719.7,429.2 719.7,450.8 718,470 C716.3,489.2 706.3,513.3 700,530 C693.7,546.7 685,551.7 680,570 C675,588.3 671.3,620 670,640 C668.7,660 675.3,676.7 672,690 C668.7,703.3 658.7,710 650,720 C641.3,730 630,738.3 620,750 C610,761.7 601.7,776.7 590,790 C578.3,803.3 561.7,818.3 550,830 C538.3,841.7 527.5,848.3 520,860 C512.5,871.7 505.3,888.3 505,900 C504.7,911.7 521.3,920.8 518,930 C514.7,939.2 496.3,955.8 485,955 C473.7,954.2 462.5,937.5 450,925 C437.5,912.5 420.8,894.2 410,880 C399.2,865.8 388.3,853.3 385,840 C381.7,826.7 395.8,815 390,800 C384.2,785 360.8,766.7 350,750 C339.2,733.3 330,718.3 325,700 C320,681.7 319.5,663.3 320,640 C320.5,616.7 326.3,586.7 328,560 C329.7,533.3 327.2,503.3 330,480 C332.8,456.7 339.2,435.8 345,420 C350.8,404.2 357.5,394.2 365,385 C372.5,375.8 375.8,371.7 390,365Z" fill="#6eaeff"/>
<ellipse cx="464" cy="638" rx="30" ry="30" fill="#9fd2ff"/>
<ellipse cx="408" cy="823" rx="18" ry="7" fill="#5a6eff"/>
<path d="M1112,290 C1114.5,280.5 1120.3,265 1130,255 C1139.7,245 1153.3,236.7 1170,230 C1186.7,223.3 1210,218.7 1230,215 C1250,211.3 1275,207.2 1290,208 C1305,208.8 1313.7,213 1320,220 C1326.3,227 1329.7,238.3 1328,250 C1326.3,261.7 1319.7,277.5 1310,290 C1300.3,302.5 1285,315.3 1270,325 C1255,334.7 1235.8,343.5 1220,348 C1204.2,352.5 1189.2,354.2 1175,352 C1160.8,349.8 1145,341.7 1135,335 C1125,328.3 1118.8,319.5 1115,312 C1111.2,304.5 1109.5,299.5 1112,290Z" fill="#6eaeff"/>
<ellipse cx="1604" cy="420" rx="33" ry="45" fill="#6eaeff"/>
<path d="M300,-20 C300,-20 358.3,-9.2 380,0 C401.7,9.2 413.3,23.3 430,35 C446.7,46.7 465,59.2 480,70 C495,80.8 506.7,86.7 520,100 C533.3,113.3 546.7,134.2 560,150 C573.3,165.8 585,182.5 600,195 C615,207.5 633.3,215 650,225 C666.7,235 683.3,245 700,255 C716.7,265 733.3,277.5 750,285 C766.7,292.5 783.3,297.5 800,300 C816.7,302.5 835,303.3 850,300 C865,296.7 880,288.3 890,280 C900,271.7 904.2,261.7 910,250 C915.8,238.3 919.2,223.3 925,210 C930.8,196.7 934.2,181.7 945,170 C955.8,158.3 974.2,148 990,140 C1005.8,132 1023.3,124 1040,122 C1056.7,120 1073.3,125 1090,128 C1106.7,131 1125,137.2 1140,140 C1155,142.8 1167.5,145.8 1180,145 C1192.5,144.2 1201.7,141.7 1215,135 C1228.3,128.3 1246.7,115.8 1260,105 C1273.3,94.2 1285,82.5 1295,70 C1305,57.5 1310.8,45 1320,30 C1329.2,15 1350,-20 1350,-20 L300,-20Z" fill="#0000ff"/>
<path d="M1520,-20 C1520,-20 1520,0.8 1510,10 C1500,19.2 1470.8,25 1460,35 C1449.2,45 1446.7,55.8 1445,70 C1443.3,84.2 1445.8,103.3 1450,120 C1454.2,136.7 1461.7,155.8 1470,170 C1478.3,184.2 1487.5,194.2 1500,205 C1512.5,215.8 1530,227.5 1545,235 C1560,242.5 1574.2,246.2 1590,250 C1605.8,253.8 1640,258 1640,258 L1640,-20 L1520,-20Z" fill="#0000ff"/>
<path d="M100,890 C117.5,838.3 180,880 205,890 C230,900 234.2,930.8 250,950 C265.8,969.2 283.3,987.5 300,1005 C316.7,1022.5 333.3,1040 350,1055 C366.7,1070 383.3,1081.7 400,1095 C416.7,1108.3 433.3,1123.3 450,1135 C466.7,1146.7 485,1158.8 500,1165 C515,1171.2 528.3,1173.7 540,1172 C551.7,1170.3 561.7,1163.7 570,1155 C578.3,1146.3 583.3,1134.2 590,1120 C596.7,1105.8 604.2,1086.7 610,1070 C615.8,1053.3 620.8,1036.7 625,1020 C629.2,1003.3 630,986.7 635,970 C640,953.3 647.5,936.7 655,920 C662.5,903.3 672.5,885 680,870 C687.5,855 691.7,842.5 700,830 C708.3,817.5 716.7,805.3 730,795 C743.3,784.7 763.3,773.8 780,768 C796.7,762.2 813.3,760.5 830,760 C846.7,759.5 865,766.7 880,765 C895,763.3 910,757.5 920,750 C930,742.5 935.8,731.7 940,720 C944.2,708.3 940,693.3 945,680 C950,666.7 959.2,652.5 970,640 C980.8,627.5 995,616.7 1010,605 C1025,593.3 1045,582.5 1060,570 C1075,557.5 1085,542.5 1100,530 C1115,517.5 1133.3,503.3 1150,495 C1166.7,486.7 1185,486.7 1200,480 C1215,473.3 1226.7,464.2 1240,455 C1253.3,445.8 1265,433.3 1280,425 C1295,416.7 1313.3,407.8 1330,405 C1346.7,402.2 1365,404.7 1380,408 C1395,411.3 1403.3,418.8 1420,425 C1436.7,431.2 1460,437.5 1480,445 C1500,452.5 1521.7,461.7 1540,470 C1558.3,478.3 1573.3,487.5 1590,495 C1606.7,502.5 1640,515 1640,515 L1640,1700 L-20,1700 L-20,1200 C-20,1200 80,1251.7 100,1200 C120,1148.3 82.5,941.7 100,890Z" fill="#0000ff"/>
<path d="M100,1368 C104.2,1311.3 111.7,1364.7 125,1360 C138.3,1355.3 159.2,1347.5 180,1340 C200.8,1332.5 225,1322 250,1315 C275,1308 305,1300.8 330,1298 C355,1295.2 376.7,1296.8 400,1298 C423.3,1299.2 446.7,1305.5 470,1305 C493.3,1304.5 518.3,1300.8 540,1295 C561.7,1289.2 581.7,1280.8 600,1270 C618.3,1259.2 633.3,1245 650,1230 C666.7,1215 683.3,1198.3 700,1180 C716.7,1161.7 733.3,1140 750,1120 C766.7,1100 783.3,1080 800,1060 C816.7,1040 836.7,1016.7 850,1000 C863.3,983.3 868.3,973.3 880,960 C891.7,946.7 905,931.7 920,920 C935,908.3 951.7,900.8 970,890 C988.3,879.2 1008.3,867.5 1030,855 C1051.7,842.5 1076.7,828.3 1100,815 C1123.3,801.7 1148.3,786.7 1170,775 C1191.7,763.3 1210,751.7 1230,745 C1250,738.3 1280,736.7 1290,735 C1300,733.3 1284.2,725.8 1290,735 C1295.8,744.2 1256.7,712.5 1325,790 C1393.3,867.5 1700,1200 1700,1200 L1700,1700 L100,1700 C100,1700 95.8,1424.7 100,1368Z" fill="#00266e"/>
<path d="M1588,645 L1640,645 L1640,690 L1588,690Z" fill="#00266e"/>
<path d="M1035,1385 C1035.8,1375 1042.5,1365.8 1050,1360 C1057.5,1354.2 1066.7,1351.3 1080,1350 C1093.3,1348.7 1119.2,1347 1130,1352 C1140.8,1357 1146.7,1368.7 1145,1380 C1143.3,1391.3 1128.3,1408.3 1120,1420 C1111.7,1431.7 1103.3,1445.8 1095,1450 C1086.7,1454.2 1078.3,1450 1070,1445 C1061.7,1440 1050.8,1430 1045,1420 C1039.2,1410 1034.2,1395 1035,1385Z" fill="#0000ff"/>
<path d="M640,1500 C641.7,1483.3 646.7,1471.7 655,1460 C663.3,1448.3 675.8,1437.5 690,1430 C704.2,1422.5 723.3,1419.2 740,1415 C756.7,1410.8 775,1405.5 790,1405 C805,1404.5 818.3,1407 830,1412 C841.7,1417 850.8,1425.3 860,1435 C869.2,1444.7 877.5,1457.5 885,1470 C892.5,1482.5 899.5,1495 905,1510 C910.5,1525 935.5,1538.3 918,1560 C900.5,1581.7 800,1640 800,1640 L660,1640 C660,1640 648.3,1583.3 645,1560 C641.7,1536.7 638.3,1516.7 640,1500Z" fill="#50007a"/>
</g>
<g clip-path="url(#cl8r)" fill="none" stroke="#4a4747" stroke-linejoin="round" stroke-linecap="round">
<path d="M345,-5 L365,20 L385,50 L380,75 L348,95 L380,120 L375,160 L395,190 L400,210 L390,230 L385,285 L365,295 L330,300 L320,312 L295,320 L285,370 L275,385 L265,440 L235,455 L190,470 L178,505 L135,490 L105,510 L110,545 L102,590 L135,600 L130,640 L150,670 L130,680 L165,690 L190,715 L215,730 L192,740 L205,770 L215,810 L235,830 L215,870 L200,900 L180,925 L165,960 L170,990 L148,1010 L175,1030 L165,1065 L180,1100 L200,1140 L180,1170 L160,1195 L140,1210 L135,1240 L100,1250 L70,1275 L40,1280 L22,1282 L30,1305 L50,1325 L75,1330 L118,1320 L125,1380 L160,1385 L195,1400 L215,1415 L205,1445 L180,1470 L178,1510 L200,1540 L235,1560 L270,1580 L340,1590 L385,1595 L412,1630" stroke-width="4.1"/>
<path d="M1630,650 L1600,690 L1590,665 L1560,655 L1520,655 L1470,672 L1420,680 L1380,695 L1340,715 L1300,740 L1270,770 L1240,810 L1215,830 L1180,860 L1150,895 L1120,925 L1100,960 L1070,990 L1040,1030 L1010,1065 L975,1095 L945,1120 L930,1155 L900,1170 L870,1185 L862,1210 L880,1240 L910,1268 L950,1280 L985,1272 L993,1255 L975,1245 L935,1242 L905,1230 L915,1220 L960,1218 L985,1232 L1000,1258 L1010,1290 L1040,1320 L1065,1338 L1110,1342 L1135,1355 L1138,1385 L1120,1420 L1100,1445 L1060,1470 L1010,1495 L960,1520 L930,1540 L880,1545 L830,1550 L780,1560 L720,1565 L695,1575 L660,1600 L638,1630" stroke-width="5.1"/>
<path d="M400,210 L440,215 L480,215 L478,160 L482,115 L520,95 L545,125 L570,160 L585,185 L620,188 L640,150 L660,115 L690,130 L708,135 L715,50 L718,10 L735,-5" stroke-width="4.1"/>
<path d="M708,135 L720,165 L740,185 L770,190 L810,175 L850,160 L900,155 L940,150 L972,145 L975,115 L1000,108 L1040,118 L1080,120 L1090,70 L1115,55 L1130,80 L1145,102 L1190,95 L1215,88 L1250,85 L1300,70 L1310,40 L1332,-5" stroke-width="4.1"/>
<path d="M1215,88 L1210,125 L1245,140 L1270,150 L1300,130 L1330,105 L1350,80 L1362,95 L1360,130 L1385,125 L1400,135 L1430,130 L1455,148 L1490,155 L1520,172 L1560,180 L1600,165 L1630,158" stroke-width="4.1"/>
<path d="M1270,150 L1265,185 L1290,190 L1310,195 L1315,260 L1290,275 L1250,295 L1215,315 L1225,350 L1230,385 L1200,400 L1160,405 L1165,425 L1205,435 L1195,480 L1175,520 L1160,570 L1120,572 L1095,560 L1078,548 L1095,580 L1100,598 L1130,610 L1148,632 L1140,650 L1135,625 L1115,640 L1118,665 L1100,688 L1075,685 L1060,670 L1068,640 L1070,600 L1095,598" stroke-width="4.1"/>
<path d="M972,145 L910,175 L885,215 L888,260 L865,290 L870,330 L890,350 L860,380 L820,405 L845,440 L860,480 L880,520 L900,560 L915,580 L950,600 L975,620 L985,605 L990,625 L1020,645 L1035,658 L1060,660" stroke-width="4.1"/>
<path d="M1060,670 L1030,705 L1005,740 L1000,780 L990,810 L1010,840 L1025,860 L1030,890 L1060,915 L1090,922 L1115,925" stroke-width="4.1"/>
<path d="M1440,150 L1455,180 L1440,250 L1465,262 L1505,262 L1520,278 L1560,275 L1580,300 L1610,330 L1630,336" stroke-width="4.1"/>
<path d="M1630,392 L1600,430 L1580,455 L1610,485 L1630,502" stroke-width="4.1"/>
<path d="M1520,650 L1500,630 L1490,600 L1500,580 L1540,575 L1535,545 L1560,540 L1590,560 L1610,580 L1630,580" stroke-width="4.1"/>
<path d="M385,295 L370,352 L430,325 L468,312 L495,330 L510,360 L545,365 L568,380 L575,430 L572,465 L552,490 L565,505 L600,515 L625,530 L652,542 L640,570 L620,600 L595,640 L568,655 L600,658 L620,680 L640,690 L655,720 L670,745 L655,760 L620,775 L585,790 L560,810 L530,830 L510,825 L490,830 L475,855 L440,862 L400,872 L370,890 L355,905 L350,940 L345,975 L350,1000 L330,1030 L310,1060 L290,1085 L265,1095 L245,1115 L230,1150 L200,1140" stroke-width="4.1"/>
<path d="M670,745 L665,790 L680,800 L675,830 L690,840 L685,870 L700,880 L695,905 L715,915 L735,930 L770,915 L810,908 L850,905 L900,912 L940,925 L960,932 L1000,928 L1060,920" stroke-width="4.1"/>
<path d="M135,1240 L160,1222 L190,1225 L200,1250 L215,1255 L220,1285 L250,1298 L280,1275 L330,1272 L365,1270 L385,1295 L410,1310 L450,1320 L500,1318 L540,1320 L580,1310 L620,1308 L650,1298 L658,1320 L665,1360 L685,1380 L720,1392 L760,1385 L790,1372 L820,1365 L840,1380 L880,1385 L940,1390 L960,1405 L1000,1425 L1035,1410 L1060,1390 L1100,1378 L1135,1378" stroke-width="4.1"/>
<path d="M930,1540 L922,1548 L910,1574 L895,1604 L878,1630" stroke-width="5.1"/>
</g></g>
<g transform="translate(812,2094) scale(0.50000)">
<clipPath id="cl9r"><rect x="0" y="0" width="1624" height="812"/></clipPath>
<clipPath id="cl9" clip-path="url(#cl9r)"><path d="M1645,-5 L1600,25 L1575,50 L1560,90 L1548,140 L1545,180 L1530,215 L1500,225 L1470,235 L1420,250 L1370,265 L1300,280 L1240,287 L1190,288 L1150,300 L1110,318 L1070,340 L1040,348 L1000,345 L960,360 L920,372 L870,382 L820,395 L780,410 L740,422 L690,430 L640,435 L590,442 L540,452 L500,462 L470,475 L430,490 L390,510 L350,540 L300,548 L250,552 L200,550 L160,565 L120,585 L80,612 L40,637 L15,652 L-5,664 L-5,-5Z"/></clipPath>
<g clip-path="url(#cl9)">
<rect x="0" y="0" width="1624" height="812" fill="#6eaeff"/>
<path d="M1200,-20 C1200,-20 1195,-9.2 1200,0 C1205,9.2 1220,21.7 1230,35 C1240,48.3 1248.3,64.2 1260,80 C1271.7,95.8 1285,115 1300,130 C1315,145 1333.3,158.3 1350,170 C1366.7,181.7 1383.3,192.5 1400,200 C1416.7,207.5 1433.3,211.3 1450,215 C1466.7,218.7 1481.7,222 1500,222 C1518.3,222 1526.7,235.3 1560,215 C1593.3,194.7 1700,100 1700,100 L1700,-20 L1200,-20Z" fill="#9fd2ff"/>
<path d="M1330,-20 C1330,-20 1325,-10 1330,0 C1335,10 1348.3,28.3 1360,40 C1371.7,51.7 1386.7,61.7 1400,70 C1413.3,78.3 1425,85.8 1440,90 C1455,94.2 1473.3,95 1490,95 C1506.7,95 1521.7,94.2 1540,90 C1558.3,85.8 1573.3,78.3 1600,70 C1626.7,61.7 1700,40 1700,40 L1700,-20 L1330,-20Z" fill="#bfffff"/>
<path d="M850,4 C833.3,7.8 815,14 800,25 C785,36 773.3,52.5 760,70 C746.7,87.5 731.7,111.7 720,130 C708.3,148.3 701.7,165 690,180 C678.3,195 661.7,203.3 650,220 C638.3,236.7 629.2,261.7 620,280 C610.8,298.3 599.7,313.3 595,330 C590.3,346.7 589.5,365 592,380 C594.5,395 602,406.7 610,420 C618,433.3 615,456.7 640,460 C665,463.3 740,455 760,440 C780,425 753.3,388.3 760,370 C766.7,351.7 785,341.7 800,330 C815,318.3 833.3,311.7 850,300 C866.7,288.3 886.7,275 900,260 C913.3,245 921.7,225 930,210 C938.3,195 943.3,185 950,170 C956.7,155 965.8,136.7 970,120 C974.2,103.3 975.8,84.2 975,70 C974.2,55.8 970.8,45 965,35 C959.2,25 950.8,15.5 940,10 C929.2,4.5 915,3 900,2 C885,1 866.7,0.2 850,4Z" fill="#9fd2ff"/>
<path d="M820,60 C828.3,49.2 838.3,39.2 850,35 C861.7,30.8 879.2,30.8 890,35 C900.8,39.2 909.7,47.5 915,60 C920.3,72.5 922.8,91.7 922,110 C921.2,128.3 915.3,150 910,170 C904.7,190 898.3,213.3 890,230 C881.7,246.7 871.7,259.2 860,270 C848.3,280.8 833.3,287.5 820,295 C806.7,302.5 791.7,306.7 780,315 C768.3,323.3 758.7,333.3 750,345 C741.3,356.7 732.2,369.2 728,385 C723.8,400.8 733,429.2 725,440 C717,450.8 687.5,458.3 680,450 C672.5,441.7 676.7,408.3 680,390 C683.3,371.7 692.5,355 700,340 C707.5,325 717.5,315 725,300 C732.5,285 739.2,266.7 745,250 C750.8,233.3 753.3,216.7 760,200 C766.7,183.3 778.3,166.7 785,150 C791.7,133.3 794.2,115 800,100 C805.8,85 811.7,70.8 820,60Z" fill="#bfffff"/>
<path d="M855,83 L860,75 L865,83 L860,92Z" fill="#ffff80"/>
<path d="M-20,-20 L775,-20 C775,-20 780,-10 775,0 C770,10 755.8,28.3 745,40 C734.2,51.7 724.2,63 710,70 C695.8,77 678.3,79.5 660,82 C641.7,84.5 616.7,82.8 600,85 C583.3,87.2 576.7,93.3 560,95 C543.3,96.7 520,92.5 500,95 C480,97.5 460,102.5 440,110 C420,117.5 396.7,135 380,140 C363.3,145 355,139.2 340,140 C325,140.8 303,140.8 290,145 C277,149.2 267.3,157.5 262,165 C256.7,172.5 256.7,181.7 258,190 C259.3,198.3 259.7,207.5 270,215 C280.3,222.5 303.3,233.3 320,235 C336.7,236.7 356.7,230 370,225 C383.3,220 390,209.2 400,205 C410,200.8 418.3,197.5 430,200 C441.7,202.5 459.2,208.3 470,220 C480.8,231.7 491.7,251.7 495,270 C498.3,288.3 491.7,311.7 490,330 C488.3,348.3 484.2,363.3 485,380 C485.8,396.7 490,415 495,430 C500,445 547.5,441.7 515,470 C482.5,498.3 389.2,545 300,600 C210.8,655 -20,800 -20,800 L-20,-20Z" fill="#5a6eff"/>
<path d="M-20,-20 L500,-20 C500,-20 502,-9.2 497,0 C492,9.2 481.2,26.7 470,35 C458.8,43.3 445,45.5 430,50 C415,54.5 398.3,58.3 380,62 C361.7,65.7 340,69.8 320,72 C300,74.2 277.5,74 260,75 C242.5,76 224.2,73.8 215,78 C205.8,82.2 212.5,88 205,100 C197.5,112 182.5,131.7 170,150 C157.5,168.3 135,198.3 130,210 C125,221.7 131.7,217.5 140,220 C148.3,222.5 166.7,220 180,225 C193.3,230 206.7,239.2 220,250 C233.3,260.8 246.7,276.7 260,290 C273.3,303.3 288.3,318.3 300,330 C311.7,341.7 322.5,348.3 330,360 C337.5,371.7 340,385 345,400 C350,415 355,433.3 360,450 C365,466.7 370,485 375,500 C380,515 455.8,490 390,540 C324.2,590 -20,800 -20,800 L-20,-20Z" fill="#0000ff"/>
<path d="M-20,265 C-20,265 -10,264.5 0,265 C10,265.5 28.3,263.8 40,268 C51.7,272.2 60.8,278 70,290 C79.2,302 89.2,323.3 95,340 C100.8,356.7 105.8,373.3 105,390 C104.2,406.7 99.2,425 90,440 C80.8,455 65,470.3 50,480 C35,489.7 11.7,495 0,498 C-11.7,501 -20,498 -20,498 L-20,265Z" fill="#5a6eff"/>
<ellipse cx="-20" cy="420" rx="33" ry="45" fill="#6eaeff"/>
<path d="M1040,95 C1045.3,92.5 1063,92.5 1070,95 C1077,97.5 1080.3,100.8 1082,110 C1083.7,119.2 1078.7,136.7 1080,150 C1081.3,163.3 1085,176.7 1090,190 C1095,203.3 1101.7,219.2 1110,230 C1118.3,240.8 1127.5,248.3 1140,255 C1152.5,261.7 1175,262.5 1185,270 C1195,277.5 1246.7,278.3 1200,300 C1153.3,321.7 954.2,393.3 905,400 C855.8,406.7 901.7,358.3 905,340 C908.3,321.7 915.8,306.7 925,290 C934.2,273.3 947.5,254.2 960,240 C972.5,225.8 986.7,216.7 1000,205 C1013.3,193.3 1032.5,181.7 1040,170 C1047.5,158.3 1045.3,145 1045,135 C1044.7,125 1038.8,116.7 1038,110 C1037.2,103.3 1034.7,97.5 1040,95Z" fill="#5a6eff"/>
<ellipse cx="1015" cy="345" rx="66" ry="68" fill="#0000ff"/>
</g>
<g clip-path="url(#cl9r)" fill="none" stroke="#4a4747" stroke-linejoin="round" stroke-linecap="round">
<path d="M1645,-5 L1600,25 L1575,50 L1560,90 L1548,140 L1545,180 L1530,215 L1500,225 L1470,235 L1420,250 L1370,265 L1300,280 L1240,287 L1190,288 L1150,300 L1110,318 L1070,340 L1040,348 L1000,345 L960,360 L920,372 L870,382 L820,395 L780,410 L740,422 L690,430 L640,435 L590,442 L540,452 L500,462 L470,475 L430,490 L390,510 L350,540 L300,548 L250,552 L200,550 L160,565 L120,585 L80,612 L40,637 L15,652 L-5,664" stroke-width="5.1"/>
<path d="M130,-5 L100,30 L85,70 L70,110 L40,130 L25,160 L-5,155" stroke-width="4.1"/>
<path d="M-5,348 L15,335 L30,350 L60,360 L90,375 L85,395 L130,402 L120,375 L105,355 L130,350 L150,330 L185,325 L210,335 L235,360 L262,375 L275,345 L250,335 L262,315 L285,295 L300,315 L330,325 L355,325 L350,360 L335,365 L345,390 L375,380 L400,400 L440,400 L468,392 L475,430 L492,460" stroke-width="4.1"/>
<path d="M355,325 L385,305 L400,295 L380,275 L350,270 L365,255 L410,258 L408,235 L375,228 L350,218 L385,195 L388,178 L358,152 L400,125 L440,95 L480,88 L520,80 L550,60 L568,35 L540,18 L500,15 L470,38" stroke-width="4.1"/>
<path d="M500,15 L488,-5" stroke-width="4.1"/>
<path d="M568,35 L600,60 L630,85 L600,115 L615,140 L625,170 L650,185 L655,210 L645,220 L680,238 L700,215 L715,212 L705,235 L702,270 L690,295 L670,308 L650,295 L615,290 L625,325 L660,340 L690,360 L710,355 L725,340 L730,385 L740,395 L725,400 L722,422" stroke-width="4.1"/>
<path d="M710,355 L745,330 L765,320 L775,290 L800,270 L815,225 L830,208 L860,208 L880,215 L900,200 L920,165 L940,152 L965,165 L1000,170 L1030,175 L1045,185 L1060,160 L1082,125 L1110,115 L1125,95 L1108,65 L1085,40 L1095,-5" stroke-width="4.1"/>
<path d="M1045,185 L1045,205 L1075,225 L1085,250 L1105,255 L1140,240 L1160,232 L1190,255 L1190,285" stroke-width="4.1"/>
<path d="M1440,-5 L1445,40 L1435,75 L1420,85 L1435,105 L1425,130 L1455,160 L1490,172 L1530,175" stroke-width="4.1"/>
<path d="M-5,520 L18,545 L-5,550" stroke-width="4.1"/>
<path d="M706,183 L722,180 L724,187 L710,188 L706,183" stroke-width="3.3"/>
<path d="M1505,150 L1525,135 L1540,105 L1550,80 L1565,60" stroke-width="3.3"/>
</g></g>
<g transform="translate(0,2906) scale(0.50000)">
<clipPath id="cl10r"><rect x="0" y="0" width="1624" height="400"/></clipPath>
<clipPath id="cl10" clip-path="url(#cl10r)"><path d="M340,-34 L385,-25 L400,-5 L425,15 L445,25 L435,50 L438,85 L460,100 L490,115 L520,128 L558,138 L565,110 L585,80 L598,50 L620,40 L640,15 L652,-2 L652,-100 L340,-100Z M922,-78 L910,-50 L895,-20 L880,0 L860,25 L840,45 L815,62 L780,78 L740,87 L710,82 L690,65 L680,40 L682,28 L700,35 L720,40 L725,18 L745,28 L760,40 L775,30 L790,12 L810,5 L835,12 L860,8 L878,-2 L895,-35 L915,-75Z"/></clipPath>
<g clip-path="url(#cl10)">
<rect x="0" y="0" width="1624" height="400" fill="#00266e"/>
<path d="M660,-10 L900,-10 L900,100 L660,100Z" fill="#50007a"/>
</g>
<g clip-path="url(#cl10r)" fill="none" stroke="#4a4747" stroke-linejoin="round" stroke-linecap="round">
<path d="M340,-34 L385,-25 L400,-5 L425,15 L445,25 L435,50 L438,85 L460,100 L490,115 L520,128 L558,138 L565,110 L585,80 L598,50 L620,40 L640,15 L652,-2" stroke-width="4.1"/>
<path d="M922,-78 L910,-50 L895,-20 L880,0 L860,25 L840,45 L815,62 L780,78 L740,87 L710,82 L690,65 L680,40 L682,28 L700,35 L720,40 L725,18 L745,28 L760,40 L775,30 L790,12 L810,5 L835,12 L860,8 L878,-2" stroke-width="4.5"/>
<path d="M558,138 L545,170 L530,200 L510,230 L495,260 L490,275 L480,280 L460,305 L438,332" stroke-width="3.3" stroke="#5e5e5e"/>
</g></g>
<!-- frame -->
<rect x="8" y="479" width="2467" height="2594" fill="none" stroke="#000" stroke-width="4" stroke-linejoin="round"/>
<!-- title -->
<g font-weight="bold" fill="#000" text-anchor="middle">
<text transform="translate(0,193.0) scale(1,1.04) translate(0,-193.0)" x="1241" y="193" font-size="68.7" textLength="2287" lengthAdjust="spacingAndGlyphs">% PRECIPITACIÓ RESPECTE DE LA MITJANA CLIMÀTICA (1991-2020)</text>
<text transform="translate(0,331.0) scale(1,1.04) translate(0,-331.0)" x="1242" y="331" font-size="75" textLength="503" lengthAdjust="spacingAndGlyphs">TARDOR 2024</text>
</g>
<!-- legend -->
<g stroke="#6e6e6e" stroke-width="4">
<rect x="312" y="3217.5" width="186.5" height="92" fill="#870000"/>
<rect x="498.5" y="3217.5" width="186.5" height="92" fill="#d00000"/>
<rect x="685" y="3217.5" width="186.5" height="92" fill="#f55a00"/>
<rect x="871.5" y="3217.5" width="186.5" height="92" fill="#ffdc00"/>
<rect x="1058" y="3217.5" width="186.5" height="92" fill="#ffff80"/>
<rect x="1244.5" y="3217.5" width="186.5" height="92" fill="#bfffff"/>
<rect x="1431" y="3217.5" width="186.5" height="92" fill="#9fd2ff"/>
<rect x="1617.5" y="3217.5" width="186.5" height="92" fill="#6eaeff"/>
<rect x="1804" y="3217.5" width="186.5" height="92" fill="#5a6eff"/>
<rect x="1990.5" y="3217.5" width="186.5" height="92" fill="#0000ff"/>
</g>
<g font-size="68" fill="#000">
<text transform="translate(0,3401.0) scale(1,1.04) translate(0,-3401.0)" x="304.3" y="3401">0</text>
<text transform="translate(0,3401.0) scale(1,1.04) translate(0,-3401.0)" x="467.8" y="3401">30</text>
<text transform="translate(0,3401.0) scale(1,1.04) translate(0,-3401.0)" x="650.3" y="3401">50</text>
<text transform="translate(0,3401.0) scale(1,1.04) translate(0,-3401.0)" x="836.8" y="3401">70</text>
<text transform="translate(0,3401.0) scale(1,1.04) translate(0,-3401.0)" x="1024" y="3401">90</text>
<text transform="translate(0,3401.0) scale(1,1.04) translate(0,-3401.0)" x="1195.5" y="3401">110</text>
<text transform="translate(0,3401.0) scale(1,1.04) translate(0,-3401.0)" x="1374.5" y="3401">130</text>
<text transform="translate(0,3401.0) scale(1,1.04) translate(0,-3401.0)" x="1569.5" y="3401">150</text>
<text transform="translate(0,3401.0) scale(1,1.04) translate(0,-3401.0)" x="1742" y="3401">170</text>
<text transform="translate(0,3401.0) scale(1,1.04) translate(0,-3401.0)" x="1938.5" y="3401">190</text>
</g>
<!-- logo -->
<g>
<rect x="1499.5" y="2762" width="333" height="220" fill="#fff" stroke="#000" stroke-width="3"/>
<rect x="1501" y="2763.5" width="109" height="107.5" fill="#0a0096"/>
<rect x="1612.5" y="2763.5" width="107.5" height="107.5" fill="#f7ca2c"/>
<rect x="1723" y="2763.5" width="108" height="107.5" fill="#0a8a34"/>
<path d="M1499.500,2872.200H1832.500 M1611.200,2762V2872 M1721.500,2762V2872" stroke="#000" stroke-width="3" fill="none"/>
<g fill="#fff"><rect x="1500.6" y="2783.8" width="52.5" height="9.8"/><rect x="1500.6" y="2811" width="52.5" height="9.8"/><rect x="1500.6" y="2838.8" width="52.5" height="9.8"/></g>
<g stroke="#fff" fill="none">
<circle cx="1666" cy="2816.5" r="21" stroke-width="8"/>
<path stroke-width="8" d="M1666,2771V2789.500 M1666,2843.500V2862 M1619.500,2816.500H1639 M1693,2816.500H1712.500 M1633.500,2784L1647,2797.500 M1698.500,2784L1685,2797.500 M1633.500,2849L1647,2835.500 M1698.500,2849L1685,2835.5"/>
</g>
<clipPath id="cloudclip"><rect x="1723" y="2763.5" width="108" height="107.5"/></clipPath>
<path clip-path="url(#cloudclip)" fill="none" stroke="#fff" stroke-width="7.5" stroke-linejoin="round" d="M1836,2779 C1815,2774 1800,2782 1798,2796 C1784,2794 1775,2803 1776,2815 C1762,2817 1756,2828 1759,2838 C1762,2848 1775,2851 1787,2846 C1794,2858 1815,2859 1825,2848 C1829,2852 1834,2853 1838,2852"/>
<text x="1665.4" y="2947" font-size="64" text-anchor="middle" textLength="304" lengthAdjust="spacingAndGlyphs" fill="#000" stroke="#000" stroke-width="1.3">meteo.cat</text>
<g font-weight="bold" font-size="56.8" fill="#000">
<text transform="translate(0,2858.0) scale(1,1.04) translate(0,-2858.0)" x="1877.5" y="2858">Servei Meteorològic</text>
<text transform="translate(0,2915.0) scale(1,1.04) translate(0,-2915.0)" x="1878.5" y="2915">de Catalunya</text>
</g>
</g>

</svg>
</body></html>
